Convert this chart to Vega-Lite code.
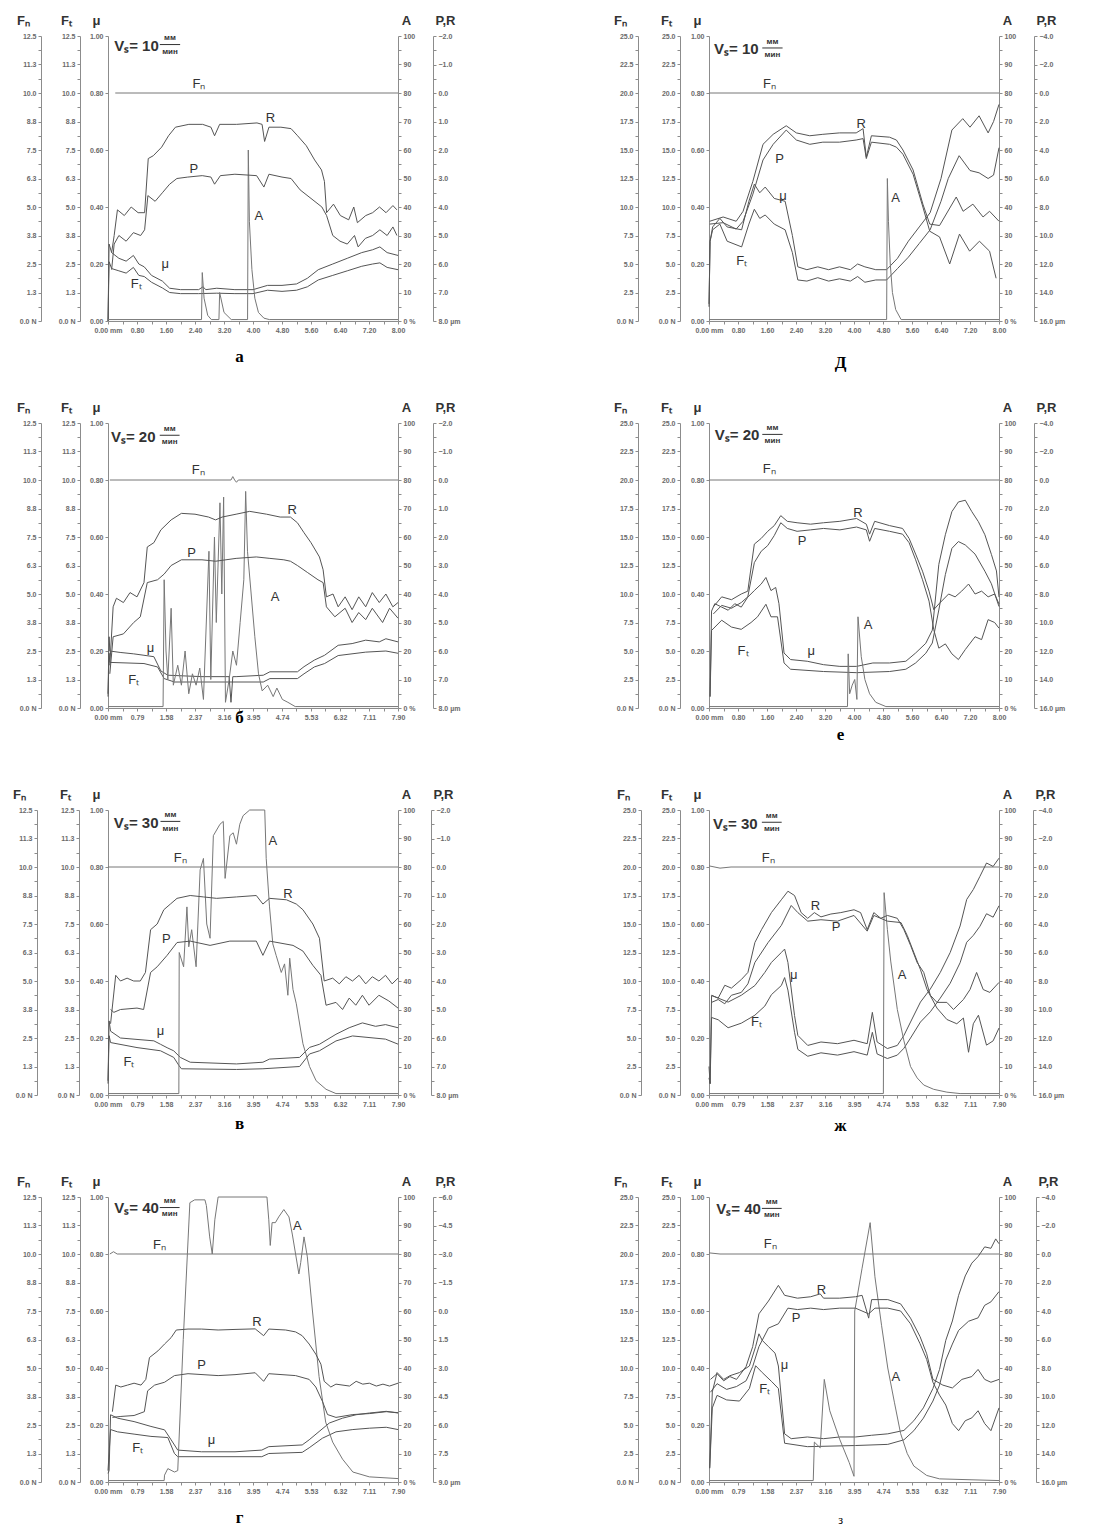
{
"$schema":"https://vega.github.io/schema/vega-lite/v6.json",
"padding":{"left":12,"top":14,"right":5,"bottom":5},
"background":"white",
"config":{
 "view":{"stroke":null},
 "axis":{"grid":false,"labelFont":"Liberation Sans","labelFontSize":7,"labelFontWeight":"bold","labelColor":"#6a6a6a","labelPadding":2,"tickSize":3,"tickColor":"#8c8c8c","domainColor":"#8c8c8c","labelOverlap":false,"labelFlush":false,"titleFont":"Liberation Sans","titleFontSize":13,"titleFontWeight":"bold","titleColor":"#333"},
 "axisY":{"titleAngle":0,"titleY":-12,"titleAlign":"center","titleBaseline":"alphabetic"},
 "axisX":{"titleFont":"Liberation Serif","titleFontSize":17,"titleFontWeight":"bold","titleColor":"#000","titleBaseline":"alphabetic","titleAlign":"center","titleX":131},
 "line":{"color":"#555","strokeWidth":1},
 "text":{"font":"Liberation Sans","color":"#333"}
},
"datasets":{
"a":[
{"s":"N","x":0.2,"y":10},{"s":"N","x":8,"y":10},
{"s":"R","x":0.1,"y":5.6},{"s":"R","x":0.17,"y":5.0},{"s":"R","x":0.26,"y":4.1},{"s":"R","x":0.45,"y":4.3},{"s":"R","x":0.64,"y":4.0},{"s":"R","x":0.83,"y":4.2},{"s":"R","x":1.01,"y":4.2},{"s":"R","x":1.11,"y":2.3},{"s":"R","x":1.25,"y":2.2},{"s":"R","x":1.48,"y":1.9},{"s":"R","x":1.67,"y":1.5},{"s":"R","x":1.86,"y":1.2},{"s":"R","x":2.23,"y":1.1},{"s":"R","x":2.61,"y":1.1},{"s":"R","x":2.84,"y":1.2},{"s":"R","x":2.94,"y":1.5},{"s":"R","x":3.08,"y":1.1},{"s":"R","x":3.55,"y":1.1},{"s":"R","x":4.11,"y":1.05},{"s":"R","x":4.25,"y":1.1},{"s":"R","x":4.32,"y":1.7},{"s":"R","x":4.44,"y":1.2},{"s":"R","x":4.77,"y":1.2},{"s":"R","x":5.05,"y":1.25},{"s":"R","x":5.23,"y":1.5},{"s":"R","x":5.47,"y":1.85},{"s":"R","x":5.7,"y":2.35},{"s":"R","x":5.89,"y":2.7},{"s":"R","x":5.97,"y":3.1},{"s":"R","x":6.03,"y":4.2},{"s":"R","x":6.22,"y":3.9},{"s":"R","x":6.41,"y":4.3},{"s":"R","x":6.64,"y":4.45},{"s":"R","x":6.78,"y":4.0},{"s":"R","x":6.88,"y":4.55},{"s":"R","x":7.11,"y":4.3},{"s":"R","x":7.3,"y":4.2},{"s":"R","x":7.49,"y":4.0},{"s":"R","x":7.67,"y":4.2},{"s":"R","x":7.86,"y":3.95},{"s":"R","x":7.97,"y":4.1},
{"s":"P","x":0.1,"y":6.2},{"s":"P","x":0.17,"y":5.3},{"s":"P","x":0.3,"y":5.0},{"s":"P","x":0.5,"y":5.2},{"s":"P","x":0.7,"y":4.9},{"s":"P","x":0.9,"y":5.0},{"s":"P","x":1.01,"y":4.8},{"s":"P","x":1.1,"y":3.6},{"s":"P","x":1.3,"y":3.8},{"s":"P","x":1.5,"y":3.5},{"s":"P","x":1.7,"y":3.2},{"s":"P","x":1.9,"y":3.0},{"s":"P","x":2.2,"y":2.95},{"s":"P","x":2.6,"y":2.9},{"s":"P","x":2.84,"y":2.95},{"s":"P","x":2.94,"y":3.2},{"s":"P","x":3.1,"y":2.9},{"s":"P","x":3.5,"y":2.85},{"s":"P","x":4.1,"y":2.9},{"s":"P","x":4.3,"y":3.3},{"s":"P","x":4.44,"y":2.85},{"s":"P","x":4.8,"y":2.95},{"s":"P","x":5.05,"y":3.0},{"s":"P","x":5.3,"y":3.4},{"s":"P","x":5.6,"y":3.7},{"s":"P","x":5.9,"y":4.0},{"s":"P","x":6.03,"y":4.3},{"s":"P","x":6.2,"y":5.0},{"s":"P","x":6.4,"y":5.2},{"s":"P","x":6.6,"y":5.3},{"s":"P","x":6.8,"y":5.0},{"s":"P","x":6.9,"y":5.4},{"s":"P","x":7.1,"y":5.1},{"s":"P","x":7.3,"y":5.0},{"s":"P","x":7.5,"y":4.8},{"s":"P","x":7.7,"y":5.0},{"s":"P","x":7.86,"y":4.7},{"s":"P","x":7.97,"y":5.0},
{"s":"M","x":0,"y":0},{"s":"M","x":0.03,"y":0.27},{"s":"M","x":0.1,"y":0.24},{"s":"M","x":0.3,"y":0.22},{"s":"M","x":0.5,"y":0.21},{"s":"M","x":0.7,"y":0.23},{"s":"M","x":0.85,"y":0.2},{"s":"M","x":1.0,"y":0.19},{"s":"M","x":1.2,"y":0.16},{"s":"M","x":1.5,"y":0.14},{"s":"M","x":1.7,"y":0.115},{"s":"M","x":2.0,"y":0.11},{"s":"M","x":2.5,"y":0.11},{"s":"M","x":2.62,"y":0.12},{"s":"M","x":2.7,"y":0.11},{"s":"M","x":3.0,"y":0.115},{"s":"M","x":3.5,"y":0.11},{"s":"M","x":4.0,"y":0.11},{"s":"M","x":4.4,"y":0.125},{"s":"M","x":4.8,"y":0.125},{"s":"M","x":5.2,"y":0.13},{"s":"M","x":5.5,"y":0.15},{"s":"M","x":5.8,"y":0.18},{"s":"M","x":6.2,"y":0.2},{"s":"M","x":6.6,"y":0.22},{"s":"M","x":7.0,"y":0.24},{"s":"M","x":7.3,"y":0.25},{"s":"M","x":7.5,"y":0.26},{"s":"M","x":7.7,"y":0.24},{"s":"M","x":8.0,"y":0.23},
{"s":"T","x":0,"y":0},{"s":"T","x":0.03,"y":2.6},{"s":"T","x":0.1,"y":2.3},{"s":"T","x":0.3,"y":2.2},{"s":"T","x":0.5,"y":2.1},{"s":"T","x":0.7,"y":2.35},{"s":"T","x":0.85,"y":2.0},{"s":"T","x":1.0,"y":1.95},{"s":"T","x":1.2,"y":1.7},{"s":"T","x":1.5,"y":1.45},{"s":"T","x":1.7,"y":1.25},{"s":"T","x":2.0,"y":1.2},{"s":"T","x":2.5,"y":1.2},{"s":"T","x":3.0,"y":1.22},{"s":"T","x":3.5,"y":1.2},{"s":"T","x":4.0,"y":1.2},{"s":"T","x":4.4,"y":1.35},{"s":"T","x":4.8,"y":1.3},{"s":"T","x":5.2,"y":1.35},{"s":"T","x":5.5,"y":1.5},{"s":"T","x":5.8,"y":1.8},{"s":"T","x":6.2,"y":2.0},{"s":"T","x":6.6,"y":2.2},{"s":"T","x":7.0,"y":2.4},{"s":"T","x":7.3,"y":2.5},{"s":"T","x":7.5,"y":2.55},{"s":"T","x":7.7,"y":2.35},{"s":"T","x":8.0,"y":2.25},
{"s":"A","x":0,"y":0.5},{"s":"A","x":2.58,"y":0.5},{"s":"A","x":2.6,"y":17},{"s":"A","x":2.65,"y":8},{"s":"A","x":2.75,"y":2},{"s":"A","x":2.85,"y":0.5},{"s":"A","x":3.06,"y":0.5},{"s":"A","x":3.08,"y":10},{"s":"A","x":3.2,"y":3},{"s":"A","x":3.4,"y":0.5},{"s":"A","x":3.85,"y":0.5},{"s":"A","x":3.87,"y":60},{"s":"A","x":3.9,"y":35},{"s":"A","x":3.97,"y":18},{"s":"A","x":4.05,"y":8},{"s":"A","x":4.15,"y":3},{"s":"A","x":4.3,"y":1},{"s":"A","x":4.45,"y":0.5},{"s":"A","x":8,"y":0.5},
{"s":"L","t":"R","x":4.48,"y":0.713},{"s":"L","t":"P","x":2.37,"y":0.535},{"s":"L","t":"A","x":4.16,"y":0.37},{"s":"L","t":"μ","x":1.58,"y":0.2},{"s":"L","t":"Fₜ","x":0.78,"y":0.13},{"s":"L","t":"Fₙ","x":2.51,"y":0.83},
{"s":"V","t":"Vₛ= 10","x":0.17,"y":0.965},{"s":"S","t":"мм","x":1.71,"y":0.993},{"s":"S","t":"мин","x":1.71,"y":0.945},{"s":"B","x":1.43,"x2":1.99,"y":0.97}
],
"b":[
{"s":"N","x":0.05,"y":10},{"s":"N","x":3.35,"y":10},{"s":"N","x":3.4,"y":10.15},{"s":"N","x":3.45,"y":10},{"s":"N","x":3.5,"y":9.9},{"s":"N","x":3.55,"y":10},{"s":"N","x":7.9,"y":10},
{"s":"R","x":0.05,"y":6.5},{"s":"R","x":0.14,"y":4.45},{"s":"R","x":0.23,"y":4.15},{"s":"R","x":0.42,"y":4.3},{"s":"R","x":0.6,"y":3.95},{"s":"R","x":0.79,"y":4.1},{"s":"R","x":0.98,"y":3.6},{"s":"R","x":1.07,"y":2.35},{"s":"R","x":1.25,"y":2.2},{"s":"R","x":1.44,"y":1.75},{"s":"R","x":1.72,"y":1.4},{"s":"R","x":2.0,"y":1.17},{"s":"R","x":2.37,"y":1.2},{"s":"R","x":2.74,"y":1.3},{"s":"R","x":2.93,"y":1.4},{"s":"R","x":3.11,"y":1.3},{"s":"R","x":3.49,"y":1.2},{"s":"R","x":3.86,"y":1.1},{"s":"R","x":4.32,"y":1.2},{"s":"R","x":4.69,"y":1.3},{"s":"R","x":4.97,"y":1.3},{"s":"R","x":5.16,"y":1.5},{"s":"R","x":5.34,"y":1.85},{"s":"R","x":5.53,"y":2.2},{"s":"R","x":5.76,"y":2.7},{"s":"R","x":5.86,"y":3.15},{"s":"R","x":5.95,"y":4.1},{"s":"R","x":6.13,"y":4.0},{"s":"R","x":6.27,"y":4.45},{"s":"R","x":6.46,"y":4.1},{"s":"R","x":6.65,"y":4.55},{"s":"R","x":6.83,"y":4.1},{"s":"R","x":7.02,"y":4.45},{"s":"R","x":7.2,"y":3.95},{"s":"R","x":7.39,"y":4.3},{"s":"R","x":7.57,"y":4.0},{"s":"R","x":7.76,"y":4.45},{"s":"R","x":7.9,"y":4.3},
{"s":"P","x":0.05,"y":6.8},{"s":"P","x":0.14,"y":5.5},{"s":"P","x":0.42,"y":5.4},{"s":"P","x":0.7,"y":5.0},{"s":"P","x":0.88,"y":4.8},{"s":"P","x":1.07,"y":3.6},{"s":"P","x":1.35,"y":3.5},{"s":"P","x":1.53,"y":3.3},{"s":"P","x":1.72,"y":3.0},{"s":"P","x":2.0,"y":2.8},{"s":"P","x":2.56,"y":2.8},{"s":"P","x":2.93,"y":2.85},{"s":"P","x":3.49,"y":2.75},{"s":"P","x":4.04,"y":2.7},{"s":"P","x":4.41,"y":2.75},{"s":"P","x":4.79,"y":2.8},{"s":"P","x":4.97,"y":2.85},{"s":"P","x":5.16,"y":3.0},{"s":"P","x":5.44,"y":3.25},{"s":"P","x":5.72,"y":3.5},{"s":"P","x":5.86,"y":3.6},{"s":"P","x":5.95,"y":4.45},{"s":"P","x":6.18,"y":4.8},{"s":"P","x":6.46,"y":4.5},{"s":"P","x":6.65,"y":5.0},{"s":"P","x":6.83,"y":4.65},{"s":"P","x":7.02,"y":4.9},{"s":"P","x":7.2,"y":4.5},{"s":"P","x":7.48,"y":5.0},{"s":"P","x":7.67,"y":4.5},{"s":"P","x":7.9,"y":4.85},
{"s":"M","x":0,"y":0.05},{"s":"M","x":0.03,"y":0.25},{"s":"M","x":0.05,"y":0.2},{"s":"M","x":0.33,"y":0.195},{"s":"M","x":0.7,"y":0.19},{"s":"M","x":0.98,"y":0.185},{"s":"M","x":1.25,"y":0.18},{"s":"M","x":1.44,"y":0.13},{"s":"M","x":1.63,"y":0.115},{"s":"M","x":2.56,"y":0.11},{"s":"M","x":3.3,"y":0.11},{"s":"M","x":3.35,"y":0.02},{"s":"M","x":3.4,"y":0.11},{"s":"M","x":3.49,"y":0.11},{"s":"M","x":4.23,"y":0.115},{"s":"M","x":4.41,"y":0.127},{"s":"M","x":5.16,"y":0.127},{"s":"M","x":5.34,"y":0.145},{"s":"M","x":5.62,"y":0.168},{"s":"M","x":5.9,"y":0.185},{"s":"M","x":6.27,"y":0.22},{"s":"M","x":6.65,"y":0.226},{"s":"M","x":7.02,"y":0.238},{"s":"M","x":7.39,"y":0.232},{"s":"M","x":7.57,"y":0.243},{"s":"M","x":7.9,"y":0.232},
{"s":"T","x":0,"y":0.5},{"s":"T","x":0.03,"y":2.4},{"s":"T","x":0.05,"y":2.0},{"s":"T","x":0.98,"y":1.95},{"s":"T","x":1.35,"y":1.8},{"s":"T","x":1.53,"y":1.29},{"s":"T","x":1.81,"y":1.14},{"s":"T","x":2.56,"y":1.14},{"s":"T","x":4.23,"y":1.14},{"s":"T","x":4.41,"y":1.29},{"s":"T","x":5.16,"y":1.29},{"s":"T","x":5.34,"y":1.5},{"s":"T","x":5.62,"y":1.8},{"s":"T","x":5.9,"y":1.95},{"s":"T","x":6.27,"y":2.3},{"s":"T","x":7.02,"y":2.45},{"s":"T","x":7.57,"y":2.5},{"s":"T","x":7.9,"y":2.4},
{"s":"A","x":0,"y":0.5},{"s":"A","x":1.5,"y":0.5},{"s":"A","x":1.53,"y":45},{"s":"A","x":1.58,"y":20},{"s":"A","x":1.63,"y":10},{"s":"A","x":1.72,"y":35},{"s":"A","x":1.78,"y":8},{"s":"A","x":1.9,"y":15},{"s":"A","x":2.0,"y":8},{"s":"A","x":2.1,"y":20},{"s":"A","x":2.2,"y":5},{"s":"A","x":2.3,"y":12},{"s":"A","x":2.4,"y":8},{"s":"A","x":2.5,"y":14},{"s":"A","x":2.6,"y":3},{"s":"A","x":2.75,"y":55},{"s":"A","x":2.8,"y":10},{"s":"A","x":2.9,"y":60},{"s":"A","x":2.95,"y":30},{"s":"A","x":3.05,"y":72},{"s":"A","x":3.1,"y":40},{"s":"A","x":3.15,"y":74},{"s":"A","x":3.2,"y":2},{"s":"A","x":3.3,"y":10},{"s":"A","x":3.4,"y":20},{"s":"A","x":3.5,"y":15},{"s":"A","x":3.6,"y":30},{"s":"A","x":3.7,"y":45},{"s":"A","x":3.75,"y":76},{"s":"A","x":3.8,"y":55},{"s":"A","x":3.9,"y":40},{"s":"A","x":4.0,"y":25},{"s":"A","x":4.1,"y":12},{"s":"A","x":4.2,"y":6},{"s":"A","x":4.35,"y":8},{"s":"A","x":4.5,"y":4},{"s":"A","x":4.6,"y":7},{"s":"A","x":4.75,"y":3},{"s":"A","x":4.9,"y":2},{"s":"A","x":5.1,"y":0.5},{"s":"A","x":7.9,"y":0.5},
{"s":"L","t":"R","x":5.02,"y":0.695},{"s":"L","t":"P","x":2.28,"y":0.543},{"s":"L","t":"A","x":4.55,"y":0.39},{"s":"L","t":"μ","x":1.16,"y":0.21},{"s":"L","t":"Fₜ","x":0.7,"y":0.1},{"s":"L","t":"Fₙ","x":2.46,"y":0.836},
{"s":"V","t":"Vₛ= 20","x":0.08,"y":0.95},{"s":"S","t":"мм","x":1.68,"y":0.979},{"s":"S","t":"мин","x":1.68,"y":0.933},{"s":"B","x":1.41,"x2":1.95,"y":0.957}
],
"v":[
{"s":"N","x":0,"y":10},{"s":"N","x":7.9,"y":10},
{"s":"R","x":0.07,"y":5.5},{"s":"R","x":0.21,"y":3.8},{"s":"R","x":0.34,"y":4.0},{"s":"R","x":0.52,"y":3.9},{"s":"R","x":0.7,"y":4.0},{"s":"R","x":0.88,"y":4.0},{"s":"R","x":1.02,"y":3.7},{"s":"R","x":1.16,"y":2.2},{"s":"R","x":1.34,"y":2.0},{"s":"R","x":1.52,"y":1.5},{"s":"R","x":1.7,"y":1.3},{"s":"R","x":1.88,"y":1.1},{"s":"R","x":2.24,"y":1.0},{"s":"R","x":2.6,"y":1.05},{"s":"R","x":2.96,"y":1.1},{"s":"R","x":3.5,"y":1.05},{"s":"R","x":4.04,"y":1.0},{"s":"R","x":4.22,"y":1.3},{"s":"R","x":4.4,"y":1.1},{"s":"R","x":4.86,"y":1.15},{"s":"R","x":5.13,"y":1.3},{"s":"R","x":5.31,"y":1.5},{"s":"R","x":5.58,"y":2.0},{"s":"R","x":5.76,"y":2.5},{"s":"R","x":5.89,"y":4.0},{"s":"R","x":6.12,"y":3.9},{"s":"R","x":6.3,"y":4.1},{"s":"R","x":6.48,"y":3.85},{"s":"R","x":6.66,"y":4.0},{"s":"R","x":6.84,"y":3.8},{"s":"R","x":7.02,"y":4.1},{"s":"R","x":7.2,"y":3.85},{"s":"R","x":7.38,"y":4.0},{"s":"R","x":7.56,"y":3.8},{"s":"R","x":7.74,"y":4.1},{"s":"R","x":7.9,"y":3.9},
{"s":"P","x":0.07,"y":5.0},{"s":"P","x":0.16,"y":5.1},{"s":"P","x":0.34,"y":5.0},{"s":"P","x":0.79,"y":4.95},{"s":"P","x":0.97,"y":5.0},{"s":"P","x":1.16,"y":3.7},{"s":"P","x":1.34,"y":3.5},{"s":"P","x":1.61,"y":3.1},{"s":"P","x":1.88,"y":2.65},{"s":"P","x":2.24,"y":2.6},{"s":"P","x":2.78,"y":2.75},{"s":"P","x":3.32,"y":2.6},{"s":"P","x":4.04,"y":2.6},{"s":"P","x":4.22,"y":3.1},{"s":"P","x":4.4,"y":2.6},{"s":"P","x":5.04,"y":2.75},{"s":"P","x":5.31,"y":2.95},{"s":"P","x":5.58,"y":3.45},{"s":"P","x":5.8,"y":3.8},{"s":"P","x":5.94,"y":4.85},{"s":"P","x":6.21,"y":4.75},{"s":"P","x":6.39,"y":5.0},{"s":"P","x":6.57,"y":4.6},{"s":"P","x":6.75,"y":4.85},{"s":"P","x":6.93,"y":4.5},{"s":"P","x":7.11,"y":4.85},{"s":"P","x":7.38,"y":4.5},{"s":"P","x":7.65,"y":4.7},{"s":"P","x":7.9,"y":4.95},
{"s":"M","x":0,"y":0.05},{"s":"M","x":0.03,"y":0.26},{"s":"M","x":0.07,"y":0.224},{"s":"M","x":0.34,"y":0.2},{"s":"M","x":0.79,"y":0.195},{"s":"M","x":1.25,"y":0.19},{"s":"M","x":1.43,"y":0.178},{"s":"M","x":1.61,"y":0.166},{"s":"M","x":1.79,"y":0.155},{"s":"M","x":1.97,"y":0.132},{"s":"M","x":2.24,"y":0.115},{"s":"M","x":3.5,"y":0.109},{"s":"M","x":4.22,"y":0.115},{"s":"M","x":4.4,"y":0.126},{"s":"M","x":5.22,"y":0.132},{"s":"M","x":5.49,"y":0.167},{"s":"M","x":5.76,"y":0.178},{"s":"M","x":6.21,"y":0.213},{"s":"M","x":6.57,"y":0.236},{"s":"M","x":6.93,"y":0.253},{"s":"M","x":7.29,"y":0.241},{"s":"M","x":7.56,"y":0.247},{"s":"M","x":7.9,"y":0.236},
{"s":"T","x":0,"y":0.5},{"s":"T","x":0.03,"y":2.6},{"s":"T","x":0.07,"y":2.3},{"s":"T","x":0.79,"y":2.08},{"s":"T","x":1.43,"y":1.94},{"s":"T","x":1.79,"y":1.65},{"s":"T","x":1.93,"y":1.3},{"s":"T","x":2.0,"y":1.15},{"s":"T","x":3.5,"y":1.12},{"s":"T","x":4.22,"y":1.15},{"s":"T","x":5.22,"y":1.25},{"s":"T","x":5.49,"y":1.8},{"s":"T","x":5.76,"y":1.94},{"s":"T","x":6.21,"y":2.37},{"s":"T","x":6.66,"y":2.59},{"s":"T","x":7.11,"y":2.52},{"s":"T","x":7.56,"y":2.45},{"s":"T","x":7.9,"y":2.23},
{"s":"A","x":0,"y":0.5},{"s":"A","x":1.93,"y":0.5},{"s":"A","x":1.94,"y":50},{"s":"A","x":2.06,"y":45},{"s":"A","x":2.15,"y":66},{"s":"A","x":2.2,"y":52},{"s":"A","x":2.28,"y":58},{"s":"A","x":2.4,"y":45},{"s":"A","x":2.51,"y":79},{"s":"A","x":2.6,"y":83},{"s":"A","x":2.69,"y":60},{"s":"A","x":2.78,"y":55},{"s":"A","x":2.87,"y":91},{"s":"A","x":3.05,"y":95},{"s":"A","x":3.14,"y":96},{"s":"A","x":3.19,"y":76},{"s":"A","x":3.32,"y":91},{"s":"A","x":3.41,"y":92},{"s":"A","x":3.5,"y":88},{"s":"A","x":3.59,"y":95},{"s":"A","x":3.68,"y":98},{"s":"A","x":3.86,"y":100},{"s":"A","x":4.27,"y":100},{"s":"A","x":4.31,"y":83},{"s":"A","x":4.4,"y":66},{"s":"A","x":4.49,"y":53},{"s":"A","x":4.58,"y":49},{"s":"A","x":4.72,"y":43},{"s":"A","x":4.81,"y":46},{"s":"A","x":4.9,"y":35},{"s":"A","x":4.95,"y":48},{"s":"A","x":5.04,"y":37},{"s":"A","x":5.13,"y":32},{"s":"A","x":5.31,"y":18},{"s":"A","x":5.49,"y":10},{"s":"A","x":5.67,"y":5},{"s":"A","x":5.94,"y":2},{"s":"A","x":6.21,"y":0.5},{"s":"A","x":7.9,"y":0.5},
{"s":"L","t":"R","x":4.9,"y":0.707},{"s":"L","t":"P","x":1.59,"y":0.546},{"s":"L","t":"A","x":4.49,"y":0.89},{"s":"L","t":"μ","x":1.43,"y":0.224},{"s":"L","t":"Fₜ","x":0.57,"y":0.115},{"s":"L","t":"Fₙ","x":1.97,"y":0.833},
{"s":"V","t":"Vₛ= 30","x":0.16,"y":0.955},{"s":"S","t":"мм","x":1.7,"y":0.982},{"s":"S","t":"мин","x":1.7,"y":0.935},{"s":"B","x":1.43,"x2":1.97,"y":0.96}
],
"g":[
{"s":"N","x":0.05,"y":10},{"s":"N","x":0.15,"y":10.1},{"s":"N","x":0.25,"y":10},{"s":"N","x":7.9,"y":10},
{"s":"R","x":0.12,"y":5.3},{"s":"R","x":0.21,"y":3.9},{"s":"R","x":0.35,"y":4.0},{"s":"R","x":0.53,"y":3.9},{"s":"R","x":0.71,"y":3.8},{"s":"R","x":0.9,"y":3.9},{"s":"R","x":1.03,"y":3.6},{"s":"R","x":1.13,"y":2.45},{"s":"R","x":1.36,"y":2.1},{"s":"R","x":1.54,"y":1.74},{"s":"R","x":1.72,"y":1.4},{"s":"R","x":1.86,"y":1.0},{"s":"R","x":2.18,"y":0.95},{"s":"R","x":2.55,"y":0.95},{"s":"R","x":3.0,"y":1.0},{"s":"R","x":3.46,"y":0.97},{"s":"R","x":4.01,"y":0.94},{"s":"R","x":4.24,"y":1.3},{"s":"R","x":4.38,"y":0.95},{"s":"R","x":4.84,"y":1.0},{"s":"R","x":5.11,"y":1.1},{"s":"R","x":5.29,"y":1.3},{"s":"R","x":5.48,"y":1.74},{"s":"R","x":5.66,"y":2.27},{"s":"R","x":5.8,"y":2.8},{"s":"R","x":5.89,"y":3.7},{"s":"R","x":6.07,"y":4.0},{"s":"R","x":6.21,"y":3.85},{"s":"R","x":6.58,"y":3.95},{"s":"R","x":6.76,"y":3.7},{"s":"R","x":6.94,"y":3.85},{"s":"R","x":7.12,"y":3.8},{"s":"R","x":7.31,"y":3.95},{"s":"R","x":7.49,"y":3.85},{"s":"R","x":7.67,"y":3.95},{"s":"R","x":7.9,"y":3.8},
{"s":"P","x":0.12,"y":5.6},{"s":"P","x":0.35,"y":5.55},{"s":"P","x":0.71,"y":5.5},{"s":"P","x":0.99,"y":5.3},{"s":"P","x":1.08,"y":4.2},{"s":"P","x":1.27,"y":3.9},{"s":"P","x":1.54,"y":3.75},{"s":"P","x":1.81,"y":3.4},{"s":"P","x":2.18,"y":3.3},{"s":"P","x":3.0,"y":3.4},{"s":"P","x":3.46,"y":3.35},{"s":"P","x":4.01,"y":3.25},{"s":"P","x":4.24,"y":3.7},{"s":"P","x":4.38,"y":3.3},{"s":"P","x":5.11,"y":3.4},{"s":"P","x":5.48,"y":3.6},{"s":"P","x":5.66,"y":4.0},{"s":"P","x":5.84,"y":4.75},{"s":"P","x":5.98,"y":5.45},{"s":"P","x":6.21,"y":5.6},{"s":"P","x":6.67,"y":5.45},{"s":"P","x":7.12,"y":5.4},{"s":"P","x":7.58,"y":5.3},{"s":"P","x":7.9,"y":5.35},
{"s":"M","x":0,"y":0.03},{"s":"M","x":0.03,"y":0.04},{"s":"M","x":0.07,"y":0.236},{"s":"M","x":0.26,"y":0.224},{"s":"M","x":0.71,"y":0.212},{"s":"M","x":1.17,"y":0.195},{"s":"M","x":1.54,"y":0.183},{"s":"M","x":1.72,"y":0.148},{"s":"M","x":1.9,"y":0.112},{"s":"M","x":2.55,"y":0.106},{"s":"M","x":3.46,"y":0.106},{"s":"M","x":4.19,"y":0.112},{"s":"M","x":4.38,"y":0.124},{"s":"M","x":5.29,"y":0.13},{"s":"M","x":5.48,"y":0.148},{"s":"M","x":5.75,"y":0.177},{"s":"M","x":6.03,"y":0.207},{"s":"M","x":6.39,"y":0.224},{"s":"M","x":6.76,"y":0.236},{"s":"M","x":7.12,"y":0.242},{"s":"M","x":7.58,"y":0.248},{"s":"M","x":7.9,"y":0.242},
{"s":"T","x":0,"y":0.5},{"s":"T","x":0.07,"y":2.3},{"s":"T","x":0.26,"y":2.2},{"s":"T","x":0.71,"y":2.1},{"s":"T","x":1.17,"y":2.0},{"s":"T","x":1.63,"y":1.95},{"s":"T","x":1.81,"y":1.25},{"s":"T","x":1.9,"y":1.11},{"s":"T","x":4.19,"y":1.11},{"s":"T","x":4.38,"y":1.25},{"s":"T","x":5.29,"y":1.3},{"s":"T","x":5.48,"y":1.5},{"s":"T","x":5.84,"y":1.92},{"s":"T","x":6.21,"y":2.2},{"s":"T","x":6.67,"y":2.3},{"s":"T","x":7.12,"y":2.36},{"s":"T","x":7.58,"y":2.4},{"s":"T","x":7.9,"y":2.3},
{"s":"A","x":0,"y":0.5},{"s":"A","x":1.53,"y":0.5},{"s":"A","x":1.54,"y":2.4},{"s":"A","x":1.63,"y":4.7},{"s":"A","x":1.81,"y":3.5},{"s":"A","x":1.9,"y":4},{"s":"A","x":2.05,"y":50},{"s":"A","x":2.23,"y":98},{"s":"A","x":2.36,"y":99},{"s":"A","x":2.64,"y":99},{"s":"A","x":2.68,"y":97},{"s":"A","x":2.77,"y":86},{"s":"A","x":2.84,"y":80},{"s":"A","x":2.91,"y":92},{"s":"A","x":3.0,"y":100},{"s":"A","x":3.46,"y":100},{"s":"A","x":4.33,"y":100},{"s":"A","x":4.38,"y":92},{"s":"A","x":4.42,"y":83},{"s":"A","x":4.47,"y":91},{"s":"A","x":4.56,"y":91},{"s":"A","x":4.65,"y":93},{"s":"A","x":4.79,"y":95.6},{"s":"A","x":4.93,"y":93},{"s":"A","x":5.02,"y":87},{"s":"A","x":5.11,"y":80},{"s":"A","x":5.2,"y":73},{"s":"A","x":5.25,"y":77},{"s":"A","x":5.34,"y":86},{"s":"A","x":5.43,"y":79},{"s":"A","x":5.57,"y":60},{"s":"A","x":5.75,"y":37},{"s":"A","x":5.93,"y":21},{"s":"A","x":6.12,"y":14},{"s":"A","x":6.39,"y":8},{"s":"A","x":6.67,"y":3.5},{"s":"A","x":7.12,"y":1.8},{"s":"A","x":7.9,"y":1.2},
{"s":"L","t":"R","x":4.06,"y":0.56},{"s":"L","t":"P","x":2.55,"y":0.41},{"s":"L","t":"A","x":5.16,"y":0.9},{"s":"L","t":"μ","x":2.82,"y":0.148},{"s":"L","t":"Fₜ","x":0.81,"y":0.118},{"s":"L","t":"Fₙ","x":1.4,"y":0.832},
{"s":"V","t":"Vₛ= 40","x":0.17,"y":0.96},{"s":"S","t":"мм","x":1.68,"y":0.985},{"s":"S","t":"мин","x":1.68,"y":0.94},{"s":"B","x":1.41,"x2":1.95,"y":0.963}
],
"d":[
{"s":"N","x":0,"y":20},{"s":"N","x":8,"y":20},
{"s":"R","x":0.02,"y":9.0},{"s":"R","x":0.39,"y":8.7},{"s":"R","x":0.75,"y":9.0},{"s":"R","x":0.94,"y":8.3},{"s":"R","x":1.21,"y":6.2},{"s":"R","x":1.49,"y":3.6},{"s":"R","x":1.77,"y":2.9},{"s":"R","x":2.13,"y":2.3},{"s":"R","x":2.41,"y":2.8},{"s":"R","x":2.78,"y":3.0},{"s":"R","x":3.14,"y":2.9},{"s":"R","x":3.6,"y":2.8},{"s":"R","x":4.06,"y":2.8},{"s":"R","x":4.25,"y":2.5},{"s":"R","x":4.34,"y":4.5},{"s":"R","x":4.48,"y":3.0},{"s":"R","x":4.98,"y":3.1},{"s":"R","x":5.17,"y":3.3},{"s":"R","x":5.35,"y":4.0},{"s":"R","x":5.63,"y":5.4},{"s":"R","x":5.9,"y":7.8},{"s":"R","x":6.09,"y":9.2},{"s":"R","x":6.36,"y":9.3},{"s":"R","x":6.82,"y":7.3},{"s":"R","x":7.01,"y":8.3},{"s":"R","x":7.28,"y":7.8},{"s":"R","x":7.56,"y":8.7},{"s":"R","x":7.74,"y":8.3},{"s":"R","x":8.0,"y":9.0},
{"s":"P","x":0.02,"y":9.2},{"s":"P","x":0.39,"y":9.1},{"s":"P","x":0.75,"y":9.55},{"s":"P","x":0.94,"y":9.0},{"s":"P","x":1.21,"y":7.1},{"s":"P","x":1.49,"y":4.7},{"s":"P","x":1.77,"y":3.6},{"s":"P","x":2.13,"y":2.6},{"s":"P","x":2.41,"y":3.3},{"s":"P","x":2.78,"y":3.6},{"s":"P","x":3.14,"y":3.45},{"s":"P","x":3.6,"y":3.45},{"s":"P","x":4.06,"y":3.3},{"s":"P","x":4.25,"y":3.2},{"s":"P","x":4.34,"y":4.6},{"s":"P","x":4.48,"y":3.45},{"s":"P","x":4.98,"y":3.6},{"s":"P","x":5.17,"y":3.8},{"s":"P","x":5.35,"y":4.3},{"s":"P","x":5.63,"y":5.7},{"s":"P","x":5.9,"y":8.0},{"s":"P","x":6.09,"y":9.7},{"s":"P","x":6.36,"y":10.1},{"s":"P","x":6.64,"y":12.0},{"s":"P","x":6.91,"y":9.9},{"s":"P","x":7.19,"y":11.1},{"s":"P","x":7.46,"y":10.4},{"s":"P","x":7.74,"y":11.1},{"s":"P","x":7.92,"y":13.0},
{"s":"M","x":0,"y":0.05},{"s":"M","x":0.03,"y":0.28},{"s":"M","x":0.1,"y":0.33},{"s":"M","x":0.3,"y":0.36},{"s":"M","x":0.5,"y":0.33},{"s":"M","x":0.9,"y":0.32},{"s":"M","x":1.1,"y":0.42},{"s":"M","x":1.25,"y":0.48},{"s":"M","x":1.4,"y":0.45},{"s":"M","x":1.55,"y":0.47},{"s":"M","x":1.8,"y":0.43},{"s":"M","x":2.1,"y":0.42},{"s":"M","x":2.3,"y":0.3},{"s":"M","x":2.45,"y":0.19},{"s":"M","x":2.7,"y":0.18},{"s":"M","x":3.0,"y":0.19},{"s":"M","x":3.3,"y":0.18},{"s":"M","x":3.6,"y":0.19},{"s":"M","x":3.9,"y":0.18},{"s":"M","x":4.1,"y":0.2},{"s":"M","x":4.3,"y":0.19},{"s":"M","x":4.6,"y":0.18},{"s":"M","x":4.9,"y":0.18},{"s":"M","x":5.2,"y":0.22},{"s":"M","x":5.5,"y":0.28},{"s":"M","x":5.8,"y":0.33},{"s":"M","x":6.1,"y":0.38},{"s":"M","x":6.4,"y":0.5},{"s":"M","x":6.7,"y":0.67},{"s":"M","x":7.0,"y":0.71},{"s":"M","x":7.2,"y":0.68},{"s":"M","x":7.45,"y":0.72},{"s":"M","x":7.7,"y":0.66},{"s":"M","x":7.85,"y":0.7},{"s":"M","x":8.0,"y":0.76},
{"s":"T","x":0,"y":1.5},{"s":"T","x":0.03,"y":7.0},{"s":"T","x":0.1,"y":8.0},{"s":"T","x":0.3,"y":8.5},{"s":"T","x":0.5,"y":7.0},{"s":"T","x":0.9,"y":6.5},{"s":"T","x":1.1,"y":8.5},{"s":"T","x":1.25,"y":9.8},{"s":"T","x":1.4,"y":9.0},{"s":"T","x":1.55,"y":9.3},{"s":"T","x":1.8,"y":8.5},{"s":"T","x":2.1,"y":8.0},{"s":"T","x":2.3,"y":6.0},{"s":"T","x":2.45,"y":3.6},{"s":"T","x":2.7,"y":3.5},{"s":"T","x":3.0,"y":3.8},{"s":"T","x":3.3,"y":3.5},{"s":"T","x":3.6,"y":3.7},{"s":"T","x":3.9,"y":3.5},{"s":"T","x":4.1,"y":3.9},{"s":"T","x":4.3,"y":3.4},{"s":"T","x":4.6,"y":3.6},{"s":"T","x":4.9,"y":3.6},{"s":"T","x":5.2,"y":4.6},{"s":"T","x":5.5,"y":5.6},{"s":"T","x":5.8,"y":6.8},{"s":"T","x":6.1,"y":8.0},{"s":"T","x":6.4,"y":10.5},{"s":"T","x":6.6,"y":12.5},{"s":"T","x":6.9,"y":14.5},{"s":"T","x":7.2,"y":13.2},{"s":"T","x":7.45,"y":13.0},{"s":"T","x":7.7,"y":12.5},{"s":"T","x":7.85,"y":12.8},{"s":"T","x":8.0,"y":15.2},
{"s":"A","x":0,"y":0.5},{"s":"A","x":4.9,"y":0.5},{"s":"A","x":4.92,"y":50},{"s":"A","x":4.95,"y":35},{"s":"A","x":5.0,"y":20},{"s":"A","x":5.06,"y":10},{"s":"A","x":5.15,"y":4},{"s":"A","x":5.3,"y":0.5},{"s":"A","x":8,"y":0.5},
{"s":"L","t":"R","x":4.2,"y":0.69},{"s":"L","t":"P","x":1.95,"y":0.57},{"s":"L","t":"A","x":5.15,"y":0.43},{"s":"L","t":"μ","x":2.04,"y":0.44},{"s":"L","t":"Fₜ","x":0.9,"y":0.21},{"s":"L","t":"Fₙ","x":1.67,"y":0.83},
{"s":"V","t":"Vₛ= 10","x":0.14,"y":0.954},{"s":"S","t":"мм","x":1.75,"y":0.98},{"s":"S","t":"мин","x":1.75,"y":0.935},{"s":"B","x":1.47,"x2":2.03,"y":0.958}
],
"e":[
{"s":"N","x":0,"y":20},{"s":"N","x":8,"y":20},
{"s":"R","x":0.12,"y":8.9},{"s":"R","x":0.35,"y":8.2},{"s":"R","x":0.62,"y":8.4},{"s":"R","x":0.89,"y":8.0},{"s":"R","x":1.07,"y":7.8},{"s":"R","x":1.25,"y":4.5},{"s":"R","x":1.44,"y":4.1},{"s":"R","x":1.62,"y":3.6},{"s":"R","x":1.8,"y":3.2},{"s":"R","x":1.98,"y":2.5},{"s":"R","x":2.16,"y":2.9},{"s":"R","x":2.43,"y":3.0},{"s":"R","x":2.8,"y":3.1},{"s":"R","x":3.16,"y":3.0},{"s":"R","x":3.61,"y":2.9},{"s":"R","x":4.07,"y":2.7},{"s":"R","x":4.34,"y":3.1},{"s":"R","x":4.43,"y":3.8},{"s":"R","x":4.57,"y":2.9},{"s":"R","x":4.98,"y":3.2},{"s":"R","x":5.34,"y":3.4},{"s":"R","x":5.52,"y":4.1},{"s":"R","x":5.7,"y":5.2},{"s":"R","x":5.89,"y":6.4},{"s":"R","x":6.07,"y":7.8},{"s":"R","x":6.2,"y":9.1},{"s":"R","x":6.34,"y":8.7},{"s":"R","x":6.61,"y":8.0},{"s":"R","x":6.79,"y":8.2},{"s":"R","x":6.97,"y":7.8},{"s":"R","x":7.16,"y":7.3},{"s":"R","x":7.34,"y":8.0},{"s":"R","x":7.52,"y":7.8},{"s":"R","x":7.7,"y":8.2},{"s":"R","x":7.88,"y":8.0},{"s":"R","x":8.0,"y":8.7},
{"s":"P","x":0.12,"y":9.4},{"s":"P","x":0.35,"y":8.8},{"s":"P","x":0.62,"y":9.0},{"s":"P","x":0.89,"y":8.6},{"s":"P","x":1.07,"y":8.2},{"s":"P","x":1.25,"y":5.8},{"s":"P","x":1.44,"y":5.0},{"s":"P","x":1.62,"y":4.6},{"s":"P","x":1.8,"y":3.9},{"s":"P","x":1.98,"y":3.0},{"s":"P","x":2.16,"y":3.4},{"s":"P","x":2.43,"y":3.6},{"s":"P","x":2.8,"y":3.5},{"s":"P","x":3.16,"y":3.4},{"s":"P","x":3.61,"y":3.5},{"s":"P","x":4.07,"y":3.3},{"s":"P","x":4.34,"y":3.5},{"s":"P","x":4.43,"y":4.3},{"s":"P","x":4.57,"y":3.4},{"s":"P","x":4.98,"y":3.6},{"s":"P","x":5.34,"y":3.8},{"s":"P","x":5.52,"y":4.4},{"s":"P","x":5.7,"y":5.6},{"s":"P","x":5.89,"y":7.0},{"s":"P","x":6.07,"y":8.5},{"s":"P","x":6.2,"y":10.5},{"s":"P","x":6.34,"y":11.8},{"s":"P","x":6.52,"y":11.5},{"s":"P","x":6.7,"y":12.2},{"s":"P","x":6.88,"y":12.6},{"s":"P","x":7.07,"y":11.9},{"s":"P","x":7.34,"y":11.0},{"s":"P","x":7.52,"y":11.2},{"s":"P","x":7.7,"y":9.8},{"s":"P","x":7.88,"y":10.0},{"s":"P","x":8.0,"y":10.4},
{"s":"M","x":0.03,"y":0.04},{"s":"M","x":0.07,"y":0.34},{"s":"M","x":0.16,"y":0.366},{"s":"M","x":0.35,"y":0.354},{"s":"M","x":0.53,"y":0.343},{"s":"M","x":0.71,"y":0.366},{"s":"M","x":0.89,"y":0.354},{"s":"M","x":1.07,"y":0.389},{"s":"M","x":1.25,"y":0.412},{"s":"M","x":1.44,"y":0.435},{"s":"M","x":1.57,"y":0.458},{"s":"M","x":1.71,"y":0.412},{"s":"M","x":1.84,"y":0.423},{"s":"M","x":1.93,"y":0.366},{"s":"M","x":2.07,"y":0.193},{"s":"M","x":2.25,"y":0.17},{"s":"M","x":2.71,"y":0.164},{"s":"M","x":3.16,"y":0.152},{"s":"M","x":3.61,"y":0.146},{"s":"M","x":4.07,"y":0.146},{"s":"M","x":4.52,"y":0.158},{"s":"M","x":4.98,"y":0.158},{"s":"M","x":5.43,"y":0.164},{"s":"M","x":5.7,"y":0.193},{"s":"M","x":5.98,"y":0.227},{"s":"M","x":6.16,"y":0.273},{"s":"M","x":6.34,"y":0.504},{"s":"M","x":6.52,"y":0.608},{"s":"M","x":6.7,"y":0.689},{"s":"M","x":6.88,"y":0.723},{"s":"M","x":7.07,"y":0.729},{"s":"M","x":7.25,"y":0.689},{"s":"M","x":7.43,"y":0.654},{"s":"M","x":7.61,"y":0.608},{"s":"M","x":7.79,"y":0.539},{"s":"M","x":7.93,"y":0.481},{"s":"M","x":8.0,"y":0.389},
{"s":"T","x":0.03,"y":1.0},{"s":"T","x":0.07,"y":6.8},{"s":"T","x":0.35,"y":7.7},{"s":"T","x":0.62,"y":7.1},{"s":"T","x":0.89,"y":6.9},{"s":"T","x":1.16,"y":7.5},{"s":"T","x":1.34,"y":8.0},{"s":"T","x":1.57,"y":9.1},{"s":"T","x":1.71,"y":8.0},{"s":"T","x":1.89,"y":8.0},{"s":"T","x":2.07,"y":3.95},{"s":"T","x":2.25,"y":3.4},{"s":"T","x":3.16,"y":3.2},{"s":"T","x":4.07,"y":3.1},{"s":"T","x":4.98,"y":3.2},{"s":"T","x":5.43,"y":3.4},{"s":"T","x":5.7,"y":3.95},{"s":"T","x":5.98,"y":4.8},{"s":"T","x":6.16,"y":5.7},{"s":"T","x":6.34,"y":8.6},{"s":"T","x":6.52,"y":11.7},{"s":"T","x":6.7,"y":14.0},{"s":"T","x":6.88,"y":14.6},{"s":"T","x":7.07,"y":14.3},{"s":"T","x":7.34,"y":13.5},{"s":"T","x":7.61,"y":12.0},{"s":"T","x":7.79,"y":10.9},{"s":"T","x":8.0,"y":8.9},
{"s":"A","x":0,"y":0.5},{"s":"A","x":3.82,"y":0.5},{"s":"A","x":3.84,"y":19},{"s":"A","x":3.88,"y":5},{"s":"A","x":3.95,"y":8},{"s":"A","x":4.02,"y":10},{"s":"A","x":4.08,"y":3},{"s":"A","x":4.11,"y":32},{"s":"A","x":4.2,"y":18},{"s":"A","x":4.3,"y":10},{"s":"A","x":4.43,"y":5},{"s":"A","x":4.6,"y":2},{"s":"A","x":4.88,"y":0.5},{"s":"A","x":8,"y":0.5},
{"s":"L","t":"R","x":4.11,"y":0.683},{"s":"L","t":"P","x":2.57,"y":0.585},{"s":"L","t":"A","x":4.39,"y":0.29},{"s":"L","t":"μ","x":2.82,"y":0.2},{"s":"L","t":"Fₜ","x":0.94,"y":0.2},{"s":"L","t":"Fₙ","x":1.66,"y":0.84},
{"s":"V","t":"Vₛ= 20","x":0.16,"y":0.958},{"s":"S","t":"мм","x":1.75,"y":0.983},{"s":"S","t":"мин","x":1.75,"y":0.936},{"s":"B","x":1.47,"x2":2.03,"y":0.96}
],
"zh":[
{"s":"N","x":0,"y":20.1},{"s":"N","x":0.3,"y":19.9},{"s":"N","x":0.6,"y":20},{"s":"N","x":7.9,"y":20},
{"s":"R","x":0.07,"y":9.0},{"s":"R","x":0.25,"y":9.2},{"s":"R","x":0.43,"y":8.3},{"s":"R","x":0.61,"y":8.5},{"s":"R","x":0.88,"y":7.9},{"s":"R","x":1.06,"y":7.4},{"s":"R","x":1.25,"y":5.3},{"s":"R","x":1.43,"y":4.4},{"s":"R","x":1.7,"y":3.2},{"s":"R","x":1.97,"y":2.3},{"s":"R","x":2.15,"y":1.7},{"s":"R","x":2.33,"y":2.0},{"s":"R","x":2.51,"y":3.2},{"s":"R","x":2.69,"y":3.6},{"s":"R","x":2.87,"y":3.2},{"s":"R","x":3.05,"y":3.5},{"s":"R","x":3.32,"y":3.3},{"s":"R","x":3.59,"y":3.2},{"s":"R","x":3.95,"y":3.0},{"s":"R","x":4.13,"y":3.2},{"s":"R","x":4.31,"y":4.4},{"s":"R","x":4.49,"y":3.2},{"s":"R","x":4.68,"y":3.6},{"s":"R","x":4.86,"y":3.4},{"s":"R","x":5.13,"y":3.6},{"s":"R","x":5.31,"y":4.4},{"s":"R","x":5.49,"y":5.5},{"s":"R","x":5.67,"y":6.7},{"s":"R","x":5.85,"y":7.4},{"s":"R","x":6.03,"y":9.0},{"s":"R","x":6.21,"y":9.5},{"s":"R","x":6.48,"y":9.5},{"s":"R","x":6.66,"y":10.0},{"s":"R","x":6.93,"y":9.3},{"s":"R","x":7.11,"y":8.6},{"s":"R","x":7.29,"y":7.4},{"s":"R","x":7.47,"y":8.6},{"s":"R","x":7.65,"y":8.8},{"s":"R","x":7.9,"y":8.1},
{"s":"P","x":0.07,"y":9.5},{"s":"P","x":0.25,"y":9.3},{"s":"P","x":0.43,"y":9.6},{"s":"P","x":0.61,"y":9.0},{"s":"P","x":0.88,"y":8.8},{"s":"P","x":1.06,"y":8.2},{"s":"P","x":1.25,"y":6.7},{"s":"P","x":1.61,"y":5.3},{"s":"P","x":1.97,"y":4.1},{"s":"P","x":2.24,"y":2.7},{"s":"P","x":2.42,"y":3.2},{"s":"P","x":2.69,"y":3.8},{"s":"P","x":3.05,"y":3.7},{"s":"P","x":3.5,"y":3.8},{"s":"P","x":3.95,"y":3.4},{"s":"P","x":4.31,"y":4.5},{"s":"P","x":4.49,"y":3.4},{"s":"P","x":4.86,"y":3.8},{"s":"P","x":5.23,"y":3.9},{"s":"P","x":5.4,"y":4.8},{"s":"P","x":5.58,"y":6.0},{"s":"P","x":5.76,"y":7.2},{"s":"P","x":5.94,"y":8.6},{"s":"P","x":6.21,"y":9.9},{"s":"P","x":6.48,"y":10.7},{"s":"P","x":6.75,"y":11.0},{"s":"P","x":6.93,"y":10.6},{"s":"P","x":7.07,"y":13.0},{"s":"P","x":7.2,"y":11.0},{"s":"P","x":7.34,"y":10.4},{"s":"P","x":7.56,"y":12.5},{"s":"P","x":7.74,"y":12.2},{"s":"P","x":7.9,"y":11.3},
{"s":"M","x":0,"y":0.1},{"s":"M","x":0.03,"y":0.04},{"s":"M","x":0.07,"y":0.349},{"s":"M","x":0.25,"y":0.34},{"s":"M","x":0.52,"y":0.326},{"s":"M","x":0.88,"y":0.35},{"s":"M","x":1.25,"y":0.384},{"s":"M","x":1.52,"y":0.43},{"s":"M","x":1.7,"y":0.465},{"s":"M","x":1.97,"y":0.5},{"s":"M","x":2.06,"y":0.512},{"s":"M","x":2.15,"y":0.465},{"s":"M","x":2.33,"y":0.279},{"s":"M","x":2.42,"y":0.209},{"s":"M","x":2.69,"y":0.174},{"s":"M","x":3.05,"y":0.186},{"s":"M","x":3.5,"y":0.18},{"s":"M","x":3.95,"y":0.192},{"s":"M","x":4.31,"y":0.18},{"s":"M","x":4.45,"y":0.29},{"s":"M","x":4.58,"y":0.186},{"s":"M","x":4.86,"y":0.163},{"s":"M","x":5.13,"y":0.174},{"s":"M","x":5.31,"y":0.209},{"s":"M","x":5.49,"y":0.256},{"s":"M","x":5.76,"y":0.326},{"s":"M","x":6.03,"y":0.372},{"s":"M","x":6.3,"y":0.43},{"s":"M","x":6.57,"y":0.5},{"s":"M","x":6.84,"y":0.593},{"s":"M","x":7.02,"y":0.686},{"s":"M","x":7.2,"y":0.721},{"s":"M","x":7.38,"y":0.767},{"s":"M","x":7.56,"y":0.814},{"s":"M","x":7.74,"y":0.802},{"s":"M","x":7.9,"y":0.831},
{"s":"T","x":0,"y":1.5},{"s":"T","x":0.03,"y":1.0},{"s":"T","x":0.07,"y":6.8},{"s":"T","x":0.25,"y":6.6},{"s":"T","x":0.52,"y":5.9},{"s":"T","x":0.88,"y":6.3},{"s":"T","x":1.25,"y":7.0},{"s":"T","x":1.52,"y":7.8},{"s":"T","x":1.7,"y":8.8},{"s":"T","x":1.97,"y":9.6},{"s":"T","x":2.06,"y":10.3},{"s":"T","x":2.15,"y":9.2},{"s":"T","x":2.33,"y":5.5},{"s":"T","x":2.42,"y":4.0},{"s":"T","x":2.69,"y":3.4},{"s":"T","x":3.05,"y":3.7},{"s":"T","x":3.5,"y":3.5},{"s":"T","x":3.95,"y":3.8},{"s":"T","x":4.31,"y":3.5},{"s":"T","x":4.45,"y":5.5},{"s":"T","x":4.58,"y":3.6},{"s":"T","x":4.86,"y":3.2},{"s":"T","x":5.13,"y":3.5},{"s":"T","x":5.31,"y":4.1},{"s":"T","x":5.49,"y":5.0},{"s":"T","x":5.76,"y":6.4},{"s":"T","x":6.03,"y":7.3},{"s":"T","x":6.3,"y":8.5},{"s":"T","x":6.57,"y":9.8},{"s":"T","x":6.84,"y":11.6},{"s":"T","x":7.02,"y":13.4},{"s":"T","x":7.2,"y":14.0},{"s":"T","x":7.38,"y":14.8},{"s":"T","x":7.56,"y":15.9},{"s":"T","x":7.74,"y":15.6},{"s":"T","x":7.9,"y":16.6},
{"s":"A","x":0,"y":0.5},{"s":"A","x":4.75,"y":0.5},{"s":"A","x":4.77,"y":71},{"s":"A","x":4.86,"y":58},{"s":"A","x":4.95,"y":47},{"s":"A","x":5.13,"y":30},{"s":"A","x":5.31,"y":19},{"s":"A","x":5.49,"y":10},{"s":"A","x":5.67,"y":6},{"s":"A","x":5.85,"y":3.5},{"s":"A","x":6.12,"y":2},{"s":"A","x":6.48,"y":1},{"s":"A","x":6.84,"y":0.5},{"s":"A","x":7.9,"y":0.5},
{"s":"L","t":"R","x":2.9,"y":0.663},{"s":"L","t":"P","x":3.46,"y":0.59},{"s":"L","t":"A","x":5.26,"y":0.42},{"s":"L","t":"μ","x":2.31,"y":0.42},{"s":"L","t":"Fₜ","x":1.29,"y":0.256},{"s":"L","t":"Fₙ","x":1.61,"y":0.83},
{"s":"V","t":"Vₛ= 30","x":0.11,"y":0.951},{"s":"S","t":"мм","x":1.71,"y":0.98},{"s":"S","t":"мин","x":1.71,"y":0.934},{"s":"B","x":1.44,"x2":1.98,"y":0.957}
],
"z":[
{"s":"N","x":0,"y":20.1},{"s":"N","x":0.3,"y":20},{"s":"N","x":7.9,"y":20},
{"s":"R","x":0.04,"y":8.8},{"s":"R","x":0.22,"y":8.4},{"s":"R","x":0.4,"y":8.9},{"s":"R","x":0.57,"y":8.6},{"s":"R","x":0.75,"y":8.8},{"s":"R","x":1.01,"y":7.9},{"s":"R","x":1.19,"y":6.5},{"s":"R","x":1.36,"y":4.2},{"s":"R","x":1.62,"y":3.3},{"s":"R","x":1.89,"y":2.2},{"s":"R","x":2.06,"y":2.9},{"s":"R","x":2.41,"y":3.1},{"s":"R","x":2.77,"y":3.0},{"s":"R","x":3.03,"y":2.8},{"s":"R","x":3.12,"y":3.1},{"s":"R","x":3.56,"y":3.1},{"s":"R","x":3.99,"y":3.0},{"s":"R","x":4.17,"y":2.9},{"s":"R","x":4.35,"y":4.5},{"s":"R","x":4.43,"y":3.2},{"s":"R","x":4.87,"y":3.2},{"s":"R","x":5.22,"y":3.5},{"s":"R","x":5.49,"y":4.5},{"s":"R","x":5.75,"y":5.8},{"s":"R","x":5.93,"y":7.0},{"s":"R","x":6.1,"y":8.8},{"s":"R","x":6.37,"y":9.2},{"s":"R","x":6.63,"y":9.4},{"s":"R","x":6.89,"y":8.8},{"s":"R","x":7.16,"y":8.6},{"s":"R","x":7.33,"y":8.1},{"s":"R","x":7.51,"y":8.8},{"s":"R","x":7.68,"y":9.0},{"s":"R","x":7.9,"y":8.8},
{"s":"P","x":0.04,"y":9.7},{"s":"P","x":0.22,"y":9.1},{"s":"P","x":0.48,"y":9.5},{"s":"P","x":0.75,"y":9.3},{"s":"P","x":1.01,"y":8.9},{"s":"P","x":1.19,"y":7.9},{"s":"P","x":1.36,"y":6.5},{"s":"P","x":1.62,"y":5.2},{"s":"P","x":1.89,"y":4.9},{"s":"P","x":2.15,"y":3.8},{"s":"P","x":2.41,"y":3.9},{"s":"P","x":2.77,"y":3.8},{"s":"P","x":3.12,"y":3.9},{"s":"P","x":3.56,"y":3.8},{"s":"P","x":3.99,"y":3.8},{"s":"P","x":4.35,"y":4.2},{"s":"P","x":4.52,"y":3.8},{"s":"P","x":4.87,"y":3.8},{"s":"P","x":5.22,"y":4.0},{"s":"P","x":5.49,"y":4.9},{"s":"P","x":5.75,"y":6.3},{"s":"P","x":5.93,"y":7.4},{"s":"P","x":6.1,"y":9.0},{"s":"P","x":6.28,"y":9.9},{"s":"P","x":6.45,"y":10.6},{"s":"P","x":6.63,"y":11.9},{"s":"P","x":6.8,"y":12.4},{"s":"P","x":6.98,"y":11.7},{"s":"P","x":7.16,"y":11.5},{"s":"P","x":7.33,"y":11.0},{"s":"P","x":7.51,"y":11.9},{"s":"P","x":7.68,"y":12.4},{"s":"P","x":7.9,"y":10.8},
{"s":"M","x":0.02,"y":0.05},{"s":"M","x":0.09,"y":0.316},{"s":"M","x":0.22,"y":0.384},{"s":"M","x":0.4,"y":0.36},{"s":"M","x":0.57,"y":0.373},{"s":"M","x":0.83,"y":0.384},{"s":"M","x":1.1,"y":0.407},{"s":"M","x":1.27,"y":0.475},{"s":"M","x":1.36,"y":0.52},{"s":"M","x":1.45,"y":0.497},{"s":"M","x":1.62,"y":0.475},{"s":"M","x":1.8,"y":0.452},{"s":"M","x":1.89,"y":0.407},{"s":"M","x":2.06,"y":0.169},{"s":"M","x":2.24,"y":0.152},{"s":"M","x":2.68,"y":0.158},{"s":"M","x":3.12,"y":0.152},{"s":"M","x":3.56,"y":0.158},{"s":"M","x":3.99,"y":0.158},{"s":"M","x":4.43,"y":0.164},{"s":"M","x":4.87,"y":0.169},{"s":"M","x":5.31,"y":0.181},{"s":"M","x":5.58,"y":0.215},{"s":"M","x":5.84,"y":0.26},{"s":"M","x":6.1,"y":0.328},{"s":"M","x":6.28,"y":0.395},{"s":"M","x":6.45,"y":0.497},{"s":"M","x":6.63,"y":0.565},{"s":"M","x":6.8,"y":0.655},{"s":"M","x":6.98,"y":0.723},{"s":"M","x":7.16,"y":0.768},{"s":"M","x":7.33,"y":0.791},{"s":"M","x":7.51,"y":0.825},{"s":"M","x":7.68,"y":0.82},{"s":"M","x":7.81,"y":0.853},{"s":"M","x":7.9,"y":0.836},
{"s":"T","x":0.02,"y":1.2},{"s":"T","x":0.09,"y":6.5},{"s":"T","x":0.22,"y":7.6},{"s":"T","x":0.48,"y":7.2},{"s":"T","x":0.83,"y":7.1},{"s":"T","x":1.1,"y":8.2},{"s":"T","x":1.27,"y":10.2},{"s":"T","x":1.45,"y":9.6},{"s":"T","x":1.71,"y":8.8},{"s":"T","x":1.89,"y":8.2},{"s":"T","x":2.06,"y":3.4},{"s":"T","x":2.68,"y":3.1},{"s":"T","x":3.99,"y":3.2},{"s":"T","x":4.87,"y":3.3},{"s":"T","x":5.31,"y":3.7},{"s":"T","x":5.58,"y":4.5},{"s":"T","x":5.84,"y":5.6},{"s":"T","x":6.1,"y":7.1},{"s":"T","x":6.28,"y":8.5},{"s":"T","x":6.45,"y":10.7},{"s":"T","x":6.63,"y":12.1},{"s":"T","x":6.8,"y":13.3},{"s":"T","x":7.07,"y":14.1},{"s":"T","x":7.33,"y":14.4},{"s":"T","x":7.51,"y":15.5},{"s":"T","x":7.68,"y":15.8},{"s":"T","x":7.9,"y":16.7},
{"s":"A","x":0,"y":0.5},{"s":"A","x":2.84,"y":0.5},{"s":"A","x":2.87,"y":14},{"s":"A","x":3.03,"y":12},{"s":"A","x":3.14,"y":36},{"s":"A","x":3.29,"y":25},{"s":"A","x":3.56,"y":15},{"s":"A","x":3.82,"y":6.8},{"s":"A","x":3.95,"y":2},{"s":"A","x":3.97,"y":60},{"s":"A","x":4.17,"y":75},{"s":"A","x":4.39,"y":91},{"s":"A","x":4.52,"y":72},{"s":"A","x":4.7,"y":55},{"s":"A","x":4.87,"y":40},{"s":"A","x":5.05,"y":28},{"s":"A","x":5.22,"y":17},{"s":"A","x":5.4,"y":10},{"s":"A","x":5.58,"y":5.6},{"s":"A","x":5.93,"y":2.3},{"s":"A","x":6.28,"y":1.1},{"s":"A","x":7.9,"y":0.5},
{"s":"L","t":"R","x":3.06,"y":0.672},{"s":"L","t":"P","x":2.37,"y":0.574},{"s":"L","t":"A","x":5.09,"y":0.367},{"s":"L","t":"μ","x":2.06,"y":0.412},{"s":"L","t":"Fₜ","x":1.52,"y":0.328},{"s":"L","t":"Fₙ","x":1.67,"y":0.836},
{"s":"V","t":"Vₛ= 40","x":0.2,"y":0.958},{"s":"S","t":"мм","x":1.71,"y":0.982},{"s":"S","t":"мин","x":1.71,"y":0.936},{"s":"B","x":1.44,"x2":1.98,"y":0.96}
]
},
"columns":2,
"spacing":{"row":102,"column":311},
"bounds":"flush",
"concat":[
{"width":290,"height":285,"data":{"name":"a"},
"encoding":{"x":{"field":"x","type":"quantitative","scale":{"domain":[0,8],"nice":false,"zero":false},"axis":{"values":[0,0.4,0.8,1.2,1.6,2,2.4,2.8,3.2,3.6,4,4.4,4.8,5.2,5.6,6,6.4,6.8,7.2,7.6,8],"labelExpr":"abs(datum.value/0.8-round(datum.value/0.8))<0.01?(datum.value==0?'0.00 mm':format(datum.value,'.2f')):''","title":"а","titleY":40}}},
"layer":[
{"transform":[{"filter":"datum.s=='N'"}],"mark":{"type":"line","color":"#777"},"encoding":{"y":{"field":"y","type":"quantitative","scale":{"domain":[0,12.5],"nice":false},"axis":{"orient":"left","offset":67,"title":"Fₙ","titleX":-18,"values":[0,0.625,1.25,1.875,2.5,3.125,3.75,4.375,5,5.625,6.25,6.875,7.5,8.125,8.75,9.375,10,10.625,11.25,11.875,12.5],"labelExpr":"abs(datum.value/1.25-round(datum.value/1.25))<0.01?(datum.value==0?'0.0 N':format(datum.value,'.1f')):''"}}}},
{"transform":[{"filter":"datum.s=='T'"}],"mark":"line","encoding":{"y":{"field":"y","type":"quantitative","scale":{"domain":[0,12.5],"nice":false},"axis":{"orient":"left","offset":28,"title":"Fₜ","titleX":-14,"values":[0,0.625,1.25,1.875,2.5,3.125,3.75,4.375,5,5.625,6.25,6.875,7.5,8.125,8.75,9.375,10,10.625,11.25,11.875,12.5],"labelExpr":"abs(datum.value/1.25-round(datum.value/1.25))<0.01?(datum.value==0?'0.0 N':format(datum.value,'.1f')):''"}}}},
{"layer":[
{"transform":[{"filter":"datum.s=='M'"}],"mark":"line","encoding":{"y":{"field":"y","type":"quantitative","scale":{"domain":[0,1],"nice":false},"axis":{"orient":"left","title":"μ","titleX":-12,"values":[0,0.05,0.1,0.15,0.2,0.25,0.3,0.35,0.4,0.45,0.5,0.55,0.6,0.65,0.7,0.75,0.8,0.85,0.9,0.95,1],"labelExpr":"abs(datum.value*10-round(datum.value*10))<0.01?format(datum.value,'.2f'):''"}}}},
{"transform":[{"filter":"datum.s=='L'"}],"mark":{"type":"text","fontSize":13},"encoding":{"y":{"field":"y","type":"quantitative"},"text":{"field":"t"}}},
{"transform":[{"filter":"datum.s=='V'"}],"mark":{"type":"text","fontSize":15,"fontWeight":"bold","align":"left"},"encoding":{"y":{"field":"y","type":"quantitative"},"text":{"field":"t"}}},
{"transform":[{"filter":"datum.s=='S'"}],"mark":{"type":"text","fontSize":8,"fontWeight":"bold"},"encoding":{"y":{"field":"y","type":"quantitative"},"text":{"field":"t"}}},
{"transform":[{"filter":"datum.s=='B'"}],"mark":{"type":"rule","color":"#333"},"encoding":{"y":{"field":"y","type":"quantitative"},"x2":{"field":"x2"}}}
]},
{"transform":[{"filter":"datum.s=='A'"}],"mark":{"type":"line","color":"#777"},"encoding":{"y":{"field":"y","type":"quantitative","scale":{"domain":[0,100],"nice":false},"axis":{"orient":"right","title":"A","titleX":8,"values":[0,5,10,15,20,25,30,35,40,45,50,55,60,65,70,75,80,85,90,95,100],"labelExpr":"datum.value%10==0?(datum.value==0?'0 %':format(datum.value,'d')):''"}}}},
{"transform":[{"filter":"datum.s=='R'||datum.s=='P'"}],"mark":"line","encoding":{"detail":{"field":"s"},"y":{"field":"y","type":"quantitative","scale":{"domain":[-2,8],"nice":false,"reverse":true},"axis":{"orient":"right","offset":35,"title":"P,R","titleX":12,"values":[-2,-1.5,-1,-0.5,0,0.5,1,1.5,2,2.5,3,3.5,4,4.5,5,5.5,6,6.5,7,7.5,8],"labelExpr":"abs(datum.value-round(datum.value))<0.01?(datum.value==8?'8.0 µm':format(datum.value,'.1f')):''"}}}}
],
"resolve":{"scale":{"y":"independent"},"axis":{"y":"independent"}}},

{"width":290,"height":285,"data":{"name":"d"},
"encoding":{"x":{"field":"x","type":"quantitative","scale":{"domain":[0,8],"nice":false,"zero":false},"axis":{"values":[0,0.4,0.8,1.2,1.6,2,2.4,2.8,3.2,3.6,4,4.4,4.8,5.2,5.6,6,6.4,6.8,7.2,7.6,8],"labelExpr":"abs(datum.value/0.8-round(datum.value/0.8))<0.01?(datum.value==0?'0.00 mm':format(datum.value,'.2f')):''","title":"Д","titleY":46}}},
"layer":[
{"transform":[{"filter":"datum.s=='N'"}],"mark":{"type":"line","color":"#777"},"encoding":{"y":{"field":"y","type":"quantitative","scale":{"domain":[0,25],"nice":false},"axis":{"orient":"left","offset":71,"title":"Fₙ","titleX":-18,"values":[0,1.25,2.5,3.75,5,6.25,7.5,8.75,10,11.25,12.5,13.75,15,16.25,17.5,18.75,20,21.25,22.5,23.75,25],"labelExpr":"abs(datum.value/2.5-round(datum.value/2.5))<0.01?(datum.value==0?'0.0 N':format(datum.value,'.1f')):''"}}}},
{"transform":[{"filter":"datum.s=='T'"}],"mark":"line","encoding":{"y":{"field":"y","type":"quantitative","scale":{"domain":[0,25],"nice":false},"axis":{"orient":"left","offset":29,"title":"Fₜ","titleX":-14,"values":[0,1.25,2.5,3.75,5,6.25,7.5,8.75,10,11.25,12.5,13.75,15,16.25,17.5,18.75,20,21.25,22.5,23.75,25],"labelExpr":"abs(datum.value/2.5-round(datum.value/2.5))<0.01?(datum.value==0?'0.0 N':format(datum.value,'.1f')):''"}}}},
{"layer":[
{"transform":[{"filter":"datum.s=='M'"}],"mark":"line","encoding":{"y":{"field":"y","type":"quantitative","scale":{"domain":[0,1],"nice":false},"axis":{"orient":"left","title":"μ","titleX":-12,"values":[0,0.05,0.1,0.15,0.2,0.25,0.3,0.35,0.4,0.45,0.5,0.55,0.6,0.65,0.7,0.75,0.8,0.85,0.9,0.95,1],"labelExpr":"abs(datum.value*10-round(datum.value*10))<0.01?format(datum.value,'.2f'):''"}}}},
{"transform":[{"filter":"datum.s=='L'"}],"mark":{"type":"text","fontSize":13},"encoding":{"y":{"field":"y","type":"quantitative"},"text":{"field":"t"}}},
{"transform":[{"filter":"datum.s=='V'"}],"mark":{"type":"text","fontSize":15,"fontWeight":"bold","align":"left"},"encoding":{"y":{"field":"y","type":"quantitative"},"text":{"field":"t"}}},
{"transform":[{"filter":"datum.s=='S'"}],"mark":{"type":"text","fontSize":8,"fontWeight":"bold"},"encoding":{"y":{"field":"y","type":"quantitative"},"text":{"field":"t"}}},
{"transform":[{"filter":"datum.s=='B'"}],"mark":{"type":"rule","color":"#333"},"encoding":{"y":{"field":"y","type":"quantitative"},"x2":{"field":"x2"}}}
]},
{"transform":[{"filter":"datum.s=='A'"}],"mark":{"type":"line","color":"#777"},"encoding":{"y":{"field":"y","type":"quantitative","scale":{"domain":[0,100],"nice":false},"axis":{"orient":"right","title":"A","titleX":8,"values":[0,5,10,15,20,25,30,35,40,45,50,55,60,65,70,75,80,85,90,95,100],"labelExpr":"datum.value%10==0?(datum.value==0?'0 %':format(datum.value,'d')):''"}}}},
{"transform":[{"filter":"datum.s=='R'||datum.s=='P'"}],"mark":"line","encoding":{"detail":{"field":"s"},"y":{"field":"y","type":"quantitative","scale":{"domain":[-4,16],"nice":false,"reverse":true},"axis":{"orient":"right","offset":35,"title":"P,R","titleX":12,"values":[-4,-3,-2,-1,0,1,2,3,4,5,6,7,8,9,10,11,12,13,14,15,16],"labelExpr":"abs(datum.value/2-round(datum.value/2))<0.01?(datum.value==16?'16.0 µm':format(datum.value,'.1f')):''"}}}}
],
"resolve":{"scale":{"y":"independent"},"axis":{"y":"independent"}}},

{"width":290,"height":285,"data":{"name":"b"},
"encoding":{"x":{"field":"x","type":"quantitative","scale":{"domain":[0,7.9],"nice":false,"zero":false},"axis":{"values":[0,0.395,0.79,1.185,1.58,1.975,2.37,2.765,3.16,3.555,3.95,4.345,4.74,5.135,5.53,5.925,6.32,6.715,7.11,7.505,7.9],"labelExpr":"abs(datum.value/0.79-round(datum.value/0.79))<0.01?(datum.value==0?'0.00 mm':format(datum.value,'.2f')):''","title":"б","titleY":14}}},
"layer":[
{"transform":[{"filter":"datum.s=='N'"}],"mark":{"type":"line","color":"#777"},"encoding":{"y":{"field":"y","type":"quantitative","scale":{"domain":[0,12.5],"nice":false},"axis":{"orient":"left","offset":67,"title":"Fₙ","titleX":-18,"values":[0,0.625,1.25,1.875,2.5,3.125,3.75,4.375,5,5.625,6.25,6.875,7.5,8.125,8.75,9.375,10,10.625,11.25,11.875,12.5],"labelExpr":"abs(datum.value/1.25-round(datum.value/1.25))<0.01?(datum.value==0?'0.0 N':format(datum.value,'.1f')):''"}}}},
{"transform":[{"filter":"datum.s=='T'"}],"mark":"line","encoding":{"y":{"field":"y","type":"quantitative","scale":{"domain":[0,12.5],"nice":false},"axis":{"orient":"left","offset":28,"title":"Fₜ","titleX":-14,"values":[0,0.625,1.25,1.875,2.5,3.125,3.75,4.375,5,5.625,6.25,6.875,7.5,8.125,8.75,9.375,10,10.625,11.25,11.875,12.5],"labelExpr":"abs(datum.value/1.25-round(datum.value/1.25))<0.01?(datum.value==0?'0.0 N':format(datum.value,'.1f')):''"}}}},
{"layer":[
{"transform":[{"filter":"datum.s=='M'"}],"mark":"line","encoding":{"y":{"field":"y","type":"quantitative","scale":{"domain":[0,1],"nice":false},"axis":{"orient":"left","title":"μ","titleX":-12,"values":[0,0.05,0.1,0.15,0.2,0.25,0.3,0.35,0.4,0.45,0.5,0.55,0.6,0.65,0.7,0.75,0.8,0.85,0.9,0.95,1],"labelExpr":"abs(datum.value*10-round(datum.value*10))<0.01?format(datum.value,'.2f'):''"}}}},
{"transform":[{"filter":"datum.s=='L'"}],"mark":{"type":"text","fontSize":13},"encoding":{"y":{"field":"y","type":"quantitative"},"text":{"field":"t"}}},
{"transform":[{"filter":"datum.s=='V'"}],"mark":{"type":"text","fontSize":15,"fontWeight":"bold","align":"left"},"encoding":{"y":{"field":"y","type":"quantitative"},"text":{"field":"t"}}},
{"transform":[{"filter":"datum.s=='S'"}],"mark":{"type":"text","fontSize":8,"fontWeight":"bold"},"encoding":{"y":{"field":"y","type":"quantitative"},"text":{"field":"t"}}},
{"transform":[{"filter":"datum.s=='B'"}],"mark":{"type":"rule","color":"#333"},"encoding":{"y":{"field":"y","type":"quantitative"},"x2":{"field":"x2"}}}
]},
{"transform":[{"filter":"datum.s=='A'"}],"mark":{"type":"line","color":"#777"},"encoding":{"y":{"field":"y","type":"quantitative","scale":{"domain":[0,100],"nice":false},"axis":{"orient":"right","title":"A","titleX":8,"values":[0,5,10,15,20,25,30,35,40,45,50,55,60,65,70,75,80,85,90,95,100],"labelExpr":"datum.value%10==0?(datum.value==0?'0 %':format(datum.value,'d')):''"}}}},
{"transform":[{"filter":"datum.s=='R'||datum.s=='P'"}],"mark":"line","encoding":{"detail":{"field":"s"},"y":{"field":"y","type":"quantitative","scale":{"domain":[-2,8],"nice":false,"reverse":true},"axis":{"orient":"right","offset":35,"title":"P,R","titleX":12,"values":[-2,-1.5,-1,-0.5,0,0.5,1,1.5,2,2.5,3,3.5,4,4.5,5,5.5,6,6.5,7,7.5,8],"labelExpr":"abs(datum.value-round(datum.value))<0.01?(datum.value==8?'8.0 µm':format(datum.value,'.1f')):''"}}}}
],
"resolve":{"scale":{"y":"independent"},"axis":{"y":"independent"}}},

{"width":290,"height":285,"data":{"name":"e"},
"encoding":{"x":{"field":"x","type":"quantitative","scale":{"domain":[0,8],"nice":false,"zero":false},"axis":{"values":[0,0.4,0.8,1.2,1.6,2,2.4,2.8,3.2,3.6,4,4.4,4.8,5.2,5.6,6,6.4,6.8,7.2,7.6,8],"labelExpr":"abs(datum.value/0.8-round(datum.value/0.8))<0.01?(datum.value==0?'0.00 mm':format(datum.value,'.2f')):''","title":"е","titleY":31}}},
"layer":[
{"transform":[{"filter":"datum.s=='N'"}],"mark":{"type":"line","color":"#777"},"encoding":{"y":{"field":"y","type":"quantitative","scale":{"domain":[0,25],"nice":false},"axis":{"orient":"left","offset":71,"title":"Fₙ","titleX":-18,"values":[0,1.25,2.5,3.75,5,6.25,7.5,8.75,10,11.25,12.5,13.75,15,16.25,17.5,18.75,20,21.25,22.5,23.75,25],"labelExpr":"abs(datum.value/2.5-round(datum.value/2.5))<0.01?(datum.value==0?'0.0 N':format(datum.value,'.1f')):''"}}}},
{"transform":[{"filter":"datum.s=='T'"}],"mark":"line","encoding":{"y":{"field":"y","type":"quantitative","scale":{"domain":[0,25],"nice":false},"axis":{"orient":"left","offset":29,"title":"Fₜ","titleX":-14,"values":[0,1.25,2.5,3.75,5,6.25,7.5,8.75,10,11.25,12.5,13.75,15,16.25,17.5,18.75,20,21.25,22.5,23.75,25],"labelExpr":"abs(datum.value/2.5-round(datum.value/2.5))<0.01?(datum.value==0?'0.0 N':format(datum.value,'.1f')):''"}}}},
{"layer":[
{"transform":[{"filter":"datum.s=='M'"}],"mark":"line","encoding":{"y":{"field":"y","type":"quantitative","scale":{"domain":[0,1],"nice":false},"axis":{"orient":"left","title":"μ","titleX":-12,"values":[0,0.05,0.1,0.15,0.2,0.25,0.3,0.35,0.4,0.45,0.5,0.55,0.6,0.65,0.7,0.75,0.8,0.85,0.9,0.95,1],"labelExpr":"abs(datum.value*10-round(datum.value*10))<0.01?format(datum.value,'.2f'):''"}}}},
{"transform":[{"filter":"datum.s=='L'"}],"mark":{"type":"text","fontSize":13},"encoding":{"y":{"field":"y","type":"quantitative"},"text":{"field":"t"}}},
{"transform":[{"filter":"datum.s=='V'"}],"mark":{"type":"text","fontSize":15,"fontWeight":"bold","align":"left"},"encoding":{"y":{"field":"y","type":"quantitative"},"text":{"field":"t"}}},
{"transform":[{"filter":"datum.s=='S'"}],"mark":{"type":"text","fontSize":8,"fontWeight":"bold"},"encoding":{"y":{"field":"y","type":"quantitative"},"text":{"field":"t"}}},
{"transform":[{"filter":"datum.s=='B'"}],"mark":{"type":"rule","color":"#333"},"encoding":{"y":{"field":"y","type":"quantitative"},"x2":{"field":"x2"}}}
]},
{"transform":[{"filter":"datum.s=='A'"}],"mark":{"type":"line","color":"#777"},"encoding":{"y":{"field":"y","type":"quantitative","scale":{"domain":[0,100],"nice":false},"axis":{"orient":"right","title":"A","titleX":8,"values":[0,5,10,15,20,25,30,35,40,45,50,55,60,65,70,75,80,85,90,95,100],"labelExpr":"datum.value%10==0?(datum.value==0?'0 %':format(datum.value,'d')):''"}}}},
{"transform":[{"filter":"datum.s=='R'||datum.s=='P'"}],"mark":"line","encoding":{"detail":{"field":"s"},"y":{"field":"y","type":"quantitative","scale":{"domain":[-4,16],"nice":false,"reverse":true},"axis":{"orient":"right","offset":35,"title":"P,R","titleX":12,"values":[-4,-3,-2,-1,0,1,2,3,4,5,6,7,8,9,10,11,12,13,14,15,16],"labelExpr":"abs(datum.value/2-round(datum.value/2))<0.01?(datum.value==16?'16.0 µm':format(datum.value,'.1f')):''"}}}}
],
"resolve":{"scale":{"y":"independent"},"axis":{"y":"independent"}}},

{"width":290,"height":285,"data":{"name":"v"},
"encoding":{"x":{"field":"x","type":"quantitative","scale":{"domain":[0,7.9],"nice":false,"zero":false},"axis":{"values":[0,0.395,0.79,1.185,1.58,1.975,2.37,2.765,3.16,3.555,3.95,4.345,4.74,5.135,5.53,5.925,6.32,6.715,7.11,7.505,7.9],"labelExpr":"abs(datum.value/0.79-round(datum.value/0.79))<0.01?(datum.value==0?'0.00 mm':format(datum.value,'.2f')):''","title":"в","titleY":33}}},
"layer":[
{"transform":[{"filter":"datum.s=='N'"}],"mark":{"type":"line","color":"#777"},"encoding":{"y":{"field":"y","type":"quantitative","scale":{"domain":[0,12.5],"nice":false},"axis":{"orient":"left","offset":71,"title":"Fₙ","titleX":-18,"values":[0,0.625,1.25,1.875,2.5,3.125,3.75,4.375,5,5.625,6.25,6.875,7.5,8.125,8.75,9.375,10,10.625,11.25,11.875,12.5],"labelExpr":"abs(datum.value/1.25-round(datum.value/1.25))<0.01?(datum.value==0?'0.0 N':format(datum.value,'.1f')):''"}}}},
{"transform":[{"filter":"datum.s=='T'"}],"mark":"line","encoding":{"y":{"field":"y","type":"quantitative","scale":{"domain":[0,12.5],"nice":false},"axis":{"orient":"left","offset":29,"title":"Fₜ","titleX":-14,"values":[0,0.625,1.25,1.875,2.5,3.125,3.75,4.375,5,5.625,6.25,6.875,7.5,8.125,8.75,9.375,10,10.625,11.25,11.875,12.5],"labelExpr":"abs(datum.value/1.25-round(datum.value/1.25))<0.01?(datum.value==0?'0.0 N':format(datum.value,'.1f')):''"}}}},
{"layer":[
{"transform":[{"filter":"datum.s=='M'"}],"mark":"line","encoding":{"y":{"field":"y","type":"quantitative","scale":{"domain":[0,1],"nice":false},"axis":{"orient":"left","title":"μ","titleX":-12,"values":[0,0.05,0.1,0.15,0.2,0.25,0.3,0.35,0.4,0.45,0.5,0.55,0.6,0.65,0.7,0.75,0.8,0.85,0.9,0.95,1],"labelExpr":"abs(datum.value*10-round(datum.value*10))<0.01?format(datum.value,'.2f'):''"}}}},
{"transform":[{"filter":"datum.s=='L'"}],"mark":{"type":"text","fontSize":13},"encoding":{"y":{"field":"y","type":"quantitative"},"text":{"field":"t"}}},
{"transform":[{"filter":"datum.s=='V'"}],"mark":{"type":"text","fontSize":15,"fontWeight":"bold","align":"left"},"encoding":{"y":{"field":"y","type":"quantitative"},"text":{"field":"t"}}},
{"transform":[{"filter":"datum.s=='S'"}],"mark":{"type":"text","fontSize":8,"fontWeight":"bold"},"encoding":{"y":{"field":"y","type":"quantitative"},"text":{"field":"t"}}},
{"transform":[{"filter":"datum.s=='B'"}],"mark":{"type":"rule","color":"#333"},"encoding":{"y":{"field":"y","type":"quantitative"},"x2":{"field":"x2"}}}
]},
{"transform":[{"filter":"datum.s=='A'"}],"mark":{"type":"line","color":"#777"},"encoding":{"y":{"field":"y","type":"quantitative","scale":{"domain":[0,100],"nice":false},"axis":{"orient":"right","title":"A","titleX":8,"values":[0,5,10,15,20,25,30,35,40,45,50,55,60,65,70,75,80,85,90,95,100],"labelExpr":"datum.value%10==0?(datum.value==0?'0 %':format(datum.value,'d')):''"}}}},
{"transform":[{"filter":"datum.s=='R'||datum.s=='P'"}],"mark":"line","encoding":{"detail":{"field":"s"},"y":{"field":"y","type":"quantitative","scale":{"domain":[-2,8],"nice":false,"reverse":true},"axis":{"orient":"right","offset":33,"title":"P,R","titleX":12,"values":[-2,-1.5,-1,-0.5,0,0.5,1,1.5,2,2.5,3,3.5,4,4.5,5,5.5,6,6.5,7,7.5,8],"labelExpr":"abs(datum.value-round(datum.value))<0.01?(datum.value==8?'8.0 µm':format(datum.value,'.1f')):''"}}}}
],
"resolve":{"scale":{"y":"independent"},"axis":{"y":"independent"}}},

{"width":290,"height":285,"data":{"name":"zh"},
"encoding":{"x":{"field":"x","type":"quantitative","scale":{"domain":[0,7.9],"nice":false,"zero":false},"axis":{"values":[0,0.395,0.79,1.185,1.58,1.975,2.37,2.765,3.16,3.555,3.95,4.345,4.74,5.135,5.53,5.925,6.32,6.715,7.11,7.505,7.9],"labelExpr":"abs(datum.value/0.79-round(datum.value/0.79))<0.01?(datum.value==0?'0.00 mm':format(datum.value,'.2f')):''","title":"ж","titleY":35}}},
"layer":[
{"transform":[{"filter":"datum.s=='N'"}],"mark":{"type":"line","color":"#777"},"encoding":{"y":{"field":"y","type":"quantitative","scale":{"domain":[0,25],"nice":false},"axis":{"orient":"left","offset":68,"title":"Fₙ","titleX":-18,"values":[0,1.25,2.5,3.75,5,6.25,7.5,8.75,10,11.25,12.5,13.75,15,16.25,17.5,18.75,20,21.25,22.5,23.75,25],"labelExpr":"abs(datum.value/2.5-round(datum.value/2.5))<0.01?(datum.value==0?'0.0 N':format(datum.value,'.1f')):''"}}}},
{"transform":[{"filter":"datum.s=='T'"}],"mark":"line","encoding":{"y":{"field":"y","type":"quantitative","scale":{"domain":[0,25],"nice":false},"axis":{"orient":"left","offset":29,"title":"Fₜ","titleX":-14,"values":[0,1.25,2.5,3.75,5,6.25,7.5,8.75,10,11.25,12.5,13.75,15,16.25,17.5,18.75,20,21.25,22.5,23.75,25],"labelExpr":"abs(datum.value/2.5-round(datum.value/2.5))<0.01?(datum.value==0?'0.0 N':format(datum.value,'.1f')):''"}}}},
{"layer":[
{"transform":[{"filter":"datum.s=='M'"}],"mark":"line","encoding":{"y":{"field":"y","type":"quantitative","scale":{"domain":[0,1],"nice":false},"axis":{"orient":"left","title":"μ","titleX":-12,"values":[0,0.05,0.1,0.15,0.2,0.25,0.3,0.35,0.4,0.45,0.5,0.55,0.6,0.65,0.7,0.75,0.8,0.85,0.9,0.95,1],"labelExpr":"abs(datum.value*10-round(datum.value*10))<0.01?format(datum.value,'.2f'):''"}}}},
{"transform":[{"filter":"datum.s=='L'"}],"mark":{"type":"text","fontSize":13},"encoding":{"y":{"field":"y","type":"quantitative"},"text":{"field":"t"}}},
{"transform":[{"filter":"datum.s=='V'"}],"mark":{"type":"text","fontSize":15,"fontWeight":"bold","align":"left"},"encoding":{"y":{"field":"y","type":"quantitative"},"text":{"field":"t"}}},
{"transform":[{"filter":"datum.s=='S'"}],"mark":{"type":"text","fontSize":8,"fontWeight":"bold"},"encoding":{"y":{"field":"y","type":"quantitative"},"text":{"field":"t"}}},
{"transform":[{"filter":"datum.s=='B'"}],"mark":{"type":"rule","color":"#333"},"encoding":{"y":{"field":"y","type":"quantitative"},"x2":{"field":"x2"}}}
]},
{"transform":[{"filter":"datum.s=='A'"}],"mark":{"type":"line","color":"#777"},"encoding":{"y":{"field":"y","type":"quantitative","scale":{"domain":[0,100],"nice":false},"axis":{"orient":"right","title":"A","titleX":8,"values":[0,5,10,15,20,25,30,35,40,45,50,55,60,65,70,75,80,85,90,95,100],"labelExpr":"datum.value%10==0?(datum.value==0?'0 %':format(datum.value,'d')):''"}}}},
{"transform":[{"filter":"datum.s=='R'||datum.s=='P'"}],"mark":"line","encoding":{"detail":{"field":"s"},"y":{"field":"y","type":"quantitative","scale":{"domain":[-4,16],"nice":false,"reverse":true},"axis":{"orient":"right","offset":34,"title":"P,R","titleX":12,"values":[-4,-3,-2,-1,0,1,2,3,4,5,6,7,8,9,10,11,12,13,14,15,16],"labelExpr":"abs(datum.value/2-round(datum.value/2))<0.01?(datum.value==16?'16.0 µm':format(datum.value,'.1f')):''"}}}}
],
"resolve":{"scale":{"y":"independent"},"axis":{"y":"independent"}}},

{"width":290,"height":285,"data":{"name":"g"},
"encoding":{"x":{"field":"x","type":"quantitative","scale":{"domain":[0,7.9],"nice":false,"zero":false},"axis":{"values":[0,0.395,0.79,1.185,1.58,1.975,2.37,2.765,3.16,3.555,3.95,4.345,4.74,5.135,5.53,5.925,6.32,6.715,7.11,7.505,7.9],"labelExpr":"abs(datum.value/0.79-round(datum.value/0.79))<0.01?(datum.value==0?'0.00 mm':format(datum.value,'.2f')):''","title":"г","titleY":40}}},
"layer":[
{"transform":[{"filter":"datum.s=='N'"}],"mark":{"type":"line","color":"#777"},"encoding":{"y":{"field":"y","type":"quantitative","scale":{"domain":[0,12.5],"nice":false},"axis":{"orient":"left","offset":67,"title":"Fₙ","titleX":-18,"values":[0,0.625,1.25,1.875,2.5,3.125,3.75,4.375,5,5.625,6.25,6.875,7.5,8.125,8.75,9.375,10,10.625,11.25,11.875,12.5],"labelExpr":"abs(datum.value/1.25-round(datum.value/1.25))<0.01?(datum.value==0?'0.0 N':format(datum.value,'.1f')):''"}}}},
{"transform":[{"filter":"datum.s=='T'"}],"mark":"line","encoding":{"y":{"field":"y","type":"quantitative","scale":{"domain":[0,12.5],"nice":false},"axis":{"orient":"left","offset":28,"title":"Fₜ","titleX":-14,"values":[0,0.625,1.25,1.875,2.5,3.125,3.75,4.375,5,5.625,6.25,6.875,7.5,8.125,8.75,9.375,10,10.625,11.25,11.875,12.5],"labelExpr":"abs(datum.value/1.25-round(datum.value/1.25))<0.01?(datum.value==0?'0.0 N':format(datum.value,'.1f')):''"}}}},
{"layer":[
{"transform":[{"filter":"datum.s=='M'"}],"mark":"line","encoding":{"y":{"field":"y","type":"quantitative","scale":{"domain":[0,1],"nice":false},"axis":{"orient":"left","title":"μ","titleX":-12,"values":[0,0.05,0.1,0.15,0.2,0.25,0.3,0.35,0.4,0.45,0.5,0.55,0.6,0.65,0.7,0.75,0.8,0.85,0.9,0.95,1],"labelExpr":"abs(datum.value*10-round(datum.value*10))<0.01?format(datum.value,'.2f'):''"}}}},
{"transform":[{"filter":"datum.s=='L'"}],"mark":{"type":"text","fontSize":13},"encoding":{"y":{"field":"y","type":"quantitative"},"text":{"field":"t"}}},
{"transform":[{"filter":"datum.s=='V'"}],"mark":{"type":"text","fontSize":15,"fontWeight":"bold","align":"left"},"encoding":{"y":{"field":"y","type":"quantitative"},"text":{"field":"t"}}},
{"transform":[{"filter":"datum.s=='S'"}],"mark":{"type":"text","fontSize":8,"fontWeight":"bold"},"encoding":{"y":{"field":"y","type":"quantitative"},"text":{"field":"t"}}},
{"transform":[{"filter":"datum.s=='B'"}],"mark":{"type":"rule","color":"#333"},"encoding":{"y":{"field":"y","type":"quantitative"},"x2":{"field":"x2"}}}
]},
{"transform":[{"filter":"datum.s=='A'"}],"mark":{"type":"line","color":"#777"},"encoding":{"y":{"field":"y","type":"quantitative","scale":{"domain":[0,100],"nice":false},"axis":{"orient":"right","title":"A","titleX":8,"values":[0,5,10,15,20,25,30,35,40,45,50,55,60,65,70,75,80,85,90,95,100],"labelExpr":"datum.value%10==0?(datum.value==0?'0 %':format(datum.value,'d')):''"}}}},
{"transform":[{"filter":"datum.s=='R'||datum.s=='P'"}],"mark":"line","encoding":{"detail":{"field":"s"},"y":{"field":"y","type":"quantitative","scale":{"domain":[-6,9],"nice":false,"reverse":true},"axis":{"orient":"right","offset":35,"title":"P,R","titleX":12,"values":[-6,-5.25,-4.5,-3.75,-3,-2.25,-1.5,-0.75,0,0.75,1.5,2.25,3,3.75,4.5,5.25,6,6.75,7.5,8.25,9],"labelExpr":"abs(datum.value/1.5-round(datum.value/1.5))<0.01?(datum.value==9?'9.0 µm':format(datum.value,'.1f')):''"}}}}
],
"resolve":{"scale":{"y":"independent"},"axis":{"y":"independent"}}},

{"width":290,"height":285,"data":{"name":"z"},
"encoding":{"x":{"field":"x","type":"quantitative","scale":{"domain":[0,7.9],"nice":false,"zero":false},"axis":{"values":[0,0.395,0.79,1.185,1.58,1.975,2.37,2.765,3.16,3.555,3.95,4.345,4.74,5.135,5.53,5.925,6.32,6.715,7.11,7.505,7.9],"labelExpr":"abs(datum.value/0.79-round(datum.value/0.79))<0.01?(datum.value==0?'0.00 mm':format(datum.value,'.2f')):''","title":"з","titleY":41,"titleFontSize":12,"titleFontWeight":"normal"}}},
"layer":[
{"transform":[{"filter":"datum.s=='N'"}],"mark":{"type":"line","color":"#777"},"encoding":{"y":{"field":"y","type":"quantitative","scale":{"domain":[0,25],"nice":false},"axis":{"orient":"left","offset":71,"title":"Fₙ","titleX":-18,"values":[0,1.25,2.5,3.75,5,6.25,7.5,8.75,10,11.25,12.5,13.75,15,16.25,17.5,18.75,20,21.25,22.5,23.75,25],"labelExpr":"abs(datum.value/2.5-round(datum.value/2.5))<0.01?(datum.value==0?'0.0 N':format(datum.value,'.1f')):''"}}}},
{"transform":[{"filter":"datum.s=='T'"}],"mark":"line","encoding":{"y":{"field":"y","type":"quantitative","scale":{"domain":[0,25],"nice":false},"axis":{"orient":"left","offset":29,"title":"Fₜ","titleX":-14,"values":[0,1.25,2.5,3.75,5,6.25,7.5,8.75,10,11.25,12.5,13.75,15,16.25,17.5,18.75,20,21.25,22.5,23.75,25],"labelExpr":"abs(datum.value/2.5-round(datum.value/2.5))<0.01?(datum.value==0?'0.0 N':format(datum.value,'.1f')):''"}}}},
{"layer":[
{"transform":[{"filter":"datum.s=='M'"}],"mark":"line","encoding":{"y":{"field":"y","type":"quantitative","scale":{"domain":[0,1],"nice":false},"axis":{"orient":"left","title":"μ","titleX":-12,"values":[0,0.05,0.1,0.15,0.2,0.25,0.3,0.35,0.4,0.45,0.5,0.55,0.6,0.65,0.7,0.75,0.8,0.85,0.9,0.95,1],"labelExpr":"abs(datum.value*10-round(datum.value*10))<0.01?format(datum.value,'.2f'):''"}}}},
{"transform":[{"filter":"datum.s=='L'"}],"mark":{"type":"text","fontSize":13},"encoding":{"y":{"field":"y","type":"quantitative"},"text":{"field":"t"}}},
{"transform":[{"filter":"datum.s=='V'"}],"mark":{"type":"text","fontSize":15,"fontWeight":"bold","align":"left"},"encoding":{"y":{"field":"y","type":"quantitative"},"text":{"field":"t"}}},
{"transform":[{"filter":"datum.s=='S'"}],"mark":{"type":"text","fontSize":8,"fontWeight":"bold"},"encoding":{"y":{"field":"y","type":"quantitative"},"text":{"field":"t"}}},
{"transform":[{"filter":"datum.s=='B'"}],"mark":{"type":"rule","color":"#333"},"encoding":{"y":{"field":"y","type":"quantitative"},"x2":{"field":"x2"}}}
]},
{"transform":[{"filter":"datum.s=='A'"}],"mark":{"type":"line","color":"#777"},"encoding":{"y":{"field":"y","type":"quantitative","scale":{"domain":[0,100],"nice":false},"axis":{"orient":"right","title":"A","titleX":8,"values":[0,5,10,15,20,25,30,35,40,45,50,55,60,65,70,75,80,85,90,95,100],"labelExpr":"datum.value%10==0?(datum.value==0?'0 %':format(datum.value,'d')):''"}}}},
{"transform":[{"filter":"datum.s=='R'||datum.s=='P'"}],"mark":"line","encoding":{"detail":{"field":"s"},"y":{"field":"y","type":"quantitative","scale":{"domain":[-4,16],"nice":false,"reverse":true},"axis":{"orient":"right","offset":37,"title":"P,R","titleX":12,"values":[-4,-3,-2,-1,0,1,2,3,4,5,6,7,8,9,10,11,12,13,14,15,16],"labelExpr":"abs(datum.value/2-round(datum.value/2))<0.01?(datum.value==16?'16.0 µm':format(datum.value,'.1f')):''"}}}}
],
"resolve":{"scale":{"y":"independent"},"axis":{"y":"independent"}}}
]
}
